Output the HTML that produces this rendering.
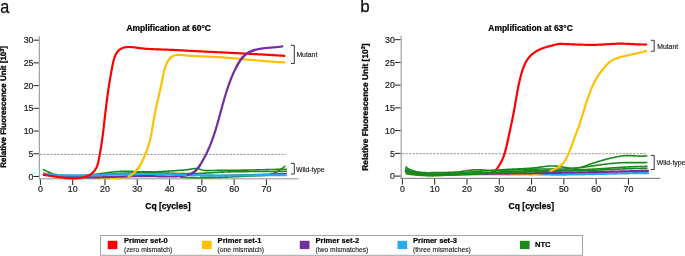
<!DOCTYPE html>
<html><head><meta charset="utf-8"><style>
html,body{margin:0;padding:0;background:#fff;}
svg{display:block;will-change:transform;}
text{font-family:"Liberation Sans",sans-serif;fill:#1a1a1a;}
.pl{font-size:18px;fill:#111;stroke:#111;stroke-width:0.3px;}
.ti{font-size:8.45px;font-weight:bold;fill:#000;stroke:#000;stroke-width:0.22px;}
.tk{font-size:8.8px;fill:#1a1a1a;stroke:#1a1a1a;stroke-width:0.2px;}
.yl{text-rendering:geometricPrecision;font-size:8px;font-weight:bold;fill:#000;stroke:#000;stroke-width:0.3px;}
.xl{font-size:8.5px;font-weight:bold;fill:#000;stroke:#000;stroke-width:0.25px;}
.ann{font-size:6.85px;fill:#111;stroke:#111;stroke-width:0.12px;}
.lg1{font-size:7.6px;font-weight:bold;fill:#000;stroke:#000;stroke-width:0.2px;}
.lg2{font-size:6.75px;fill:#222;stroke:#222;stroke-width:0.12px;}
</style></head><body>
<svg width="685" height="256" viewBox="0 0 685 256">
<text transform="translate(0.15,12.6) scale(0.9,1)" class="pl">a</text>
<text x="360.2" y="11.95" class="pl" style="font-size:17px">b</text>
<text x="126.4" y="31" class="ti">Amplification at 60°C</text>
<text x="488.3" y="30.6" class="ti">Amplification at 63°C</text>
<text transform="translate(6.4,106.85) rotate(-90)" text-anchor="middle" class="yl">Relative Fluorescence Unit [10<tspan dy="-2.5" font-size="5.5">3</tspan><tspan dy="2.5">]</tspan></text>
<text transform="translate(367.6,107.1) rotate(-90)" text-anchor="middle" class="yl" style="font-size:8.4px">Relative Fluorescence Unit [10<tspan dy="-2.5" font-size="5.5">3</tspan><tspan dy="2.5">]</tspan></text>
<text x="168" y="209" text-anchor="middle" class="xl">Cq [cycles]</text>
<text x="531.3" y="208.7" text-anchor="middle" class="xl">Cq [cycles]</text>
<line x1="40" y1="154.4" x2="286" y2="154.4" stroke="#959595" stroke-width="1" stroke-dasharray="2.3,1.15"/>
<line x1="402" y1="153.7" x2="647" y2="153.7" stroke="#959595" stroke-width="1" stroke-dasharray="2.3,1.15"/>
<line x1="39.35" y1="36.2" x2="39.35" y2="179.4" stroke="#a0a0a0" stroke-width="1.2"/>
<line x1="38.75" y1="178.8" x2="298.4" y2="178.8" stroke="#b4b4b4" stroke-width="1.5"/>
<line x1="33.5" y1="176.50" x2="38.75" y2="176.50" stroke="#222" stroke-width="1"/>
<text x="33.5" y="179.65" text-anchor="end" class="tk">0</text>
<line x1="33.5" y1="153.78" x2="38.75" y2="153.78" stroke="#222" stroke-width="1"/>
<text x="33.5" y="156.93" text-anchor="end" class="tk">5</text>
<line x1="33.5" y1="131.06" x2="38.75" y2="131.06" stroke="#222" stroke-width="1"/>
<text x="33.5" y="134.21" text-anchor="end" class="tk">10</text>
<line x1="33.5" y1="108.34" x2="38.75" y2="108.34" stroke="#222" stroke-width="1"/>
<text x="33.5" y="111.49" text-anchor="end" class="tk">15</text>
<line x1="33.5" y1="85.62" x2="38.75" y2="85.62" stroke="#222" stroke-width="1"/>
<text x="33.5" y="88.77" text-anchor="end" class="tk">20</text>
<line x1="33.5" y1="62.90" x2="38.75" y2="62.90" stroke="#222" stroke-width="1"/>
<text x="33.5" y="66.05" text-anchor="end" class="tk">25</text>
<line x1="33.5" y1="40.18" x2="38.75" y2="40.18" stroke="#222" stroke-width="1"/>
<text x="33.5" y="43.33" text-anchor="end" class="tk">30</text>
<line x1="40.40" y1="179.4" x2="40.40" y2="185.0" stroke="#222" stroke-width="1"/>
<text x="40.40" y="191.8" text-anchor="middle" class="tk">0</text>
<line x1="72.69" y1="179.4" x2="72.69" y2="185.0" stroke="#222" stroke-width="1"/>
<text x="72.69" y="191.8" text-anchor="middle" class="tk">10</text>
<line x1="104.98" y1="179.4" x2="104.98" y2="185.0" stroke="#222" stroke-width="1"/>
<text x="104.98" y="191.8" text-anchor="middle" class="tk">20</text>
<line x1="137.27" y1="179.4" x2="137.27" y2="185.0" stroke="#222" stroke-width="1"/>
<text x="137.27" y="191.8" text-anchor="middle" class="tk">30</text>
<line x1="169.56" y1="179.4" x2="169.56" y2="185.0" stroke="#222" stroke-width="1"/>
<text x="169.56" y="191.8" text-anchor="middle" class="tk">40</text>
<line x1="201.85" y1="179.4" x2="201.85" y2="185.0" stroke="#222" stroke-width="1"/>
<text x="201.85" y="191.8" text-anchor="middle" class="tk">50</text>
<line x1="234.14" y1="179.4" x2="234.14" y2="185.0" stroke="#222" stroke-width="1"/>
<text x="234.14" y="191.8" text-anchor="middle" class="tk">60</text>
<line x1="266.43" y1="179.4" x2="266.43" y2="185.0" stroke="#222" stroke-width="1"/>
<text x="266.43" y="191.8" text-anchor="middle" class="tk">70</text>
<line x1="401.2" y1="35.8" x2="401.2" y2="178.95" stroke="#a0a0a0" stroke-width="1.2"/>
<line x1="400.59999999999997" y1="178.35" x2="660.4" y2="178.35" stroke="#767676" stroke-width="1.0"/>
<line x1="394.90000000000003" y1="176.10" x2="400.59999999999997" y2="176.10" stroke="#222" stroke-width="1"/>
<text x="394.90000000000003" y="179.25" text-anchor="end" class="tk">0</text>
<line x1="394.90000000000003" y1="153.36" x2="400.59999999999997" y2="153.36" stroke="#222" stroke-width="1"/>
<text x="394.90000000000003" y="156.51" text-anchor="end" class="tk">5</text>
<line x1="394.90000000000003" y1="130.62" x2="400.59999999999997" y2="130.62" stroke="#222" stroke-width="1"/>
<text x="394.90000000000003" y="133.77" text-anchor="end" class="tk">10</text>
<line x1="394.90000000000003" y1="107.88" x2="400.59999999999997" y2="107.88" stroke="#222" stroke-width="1"/>
<text x="394.90000000000003" y="111.03" text-anchor="end" class="tk">15</text>
<line x1="394.90000000000003" y1="85.14" x2="400.59999999999997" y2="85.14" stroke="#222" stroke-width="1"/>
<text x="394.90000000000003" y="88.29" text-anchor="end" class="tk">20</text>
<line x1="394.90000000000003" y1="62.40" x2="400.59999999999997" y2="62.40" stroke="#222" stroke-width="1"/>
<text x="394.90000000000003" y="65.55" text-anchor="end" class="tk">25</text>
<line x1="394.90000000000003" y1="39.66" x2="400.59999999999997" y2="39.66" stroke="#222" stroke-width="1"/>
<text x="394.90000000000003" y="42.81" text-anchor="end" class="tk">30</text>
<line x1="402.40" y1="178.95" x2="402.40" y2="184.54999999999998" stroke="#222" stroke-width="1"/>
<text x="402.40" y="191.8" text-anchor="middle" class="tk">0</text>
<line x1="434.69" y1="178.95" x2="434.69" y2="184.54999999999998" stroke="#222" stroke-width="1"/>
<text x="434.69" y="191.8" text-anchor="middle" class="tk">10</text>
<line x1="466.98" y1="178.95" x2="466.98" y2="184.54999999999998" stroke="#222" stroke-width="1"/>
<text x="466.98" y="191.8" text-anchor="middle" class="tk">20</text>
<line x1="499.27" y1="178.95" x2="499.27" y2="184.54999999999998" stroke="#222" stroke-width="1"/>
<text x="499.27" y="191.8" text-anchor="middle" class="tk">30</text>
<line x1="531.56" y1="178.95" x2="531.56" y2="184.54999999999998" stroke="#222" stroke-width="1"/>
<text x="531.56" y="191.8" text-anchor="middle" class="tk">40</text>
<line x1="563.85" y1="178.95" x2="563.85" y2="184.54999999999998" stroke="#222" stroke-width="1"/>
<text x="563.85" y="191.8" text-anchor="middle" class="tk">50</text>
<line x1="596.14" y1="178.95" x2="596.14" y2="184.54999999999998" stroke="#222" stroke-width="1"/>
<text x="596.14" y="191.8" text-anchor="middle" class="tk">60</text>
<line x1="628.43" y1="178.95" x2="628.43" y2="184.54999999999998" stroke="#222" stroke-width="1"/>
<text x="628.43" y="191.8" text-anchor="middle" class="tk">70</text>
<path d="M42.95,172.79 L43.73,173.02 L44.51,173.24 L45.29,173.46 L46.07,173.66 L46.85,173.86 L47.64,174.05 L48.42,174.24 L49.21,174.42 L49.99,174.58 L50.78,174.75 L51.57,174.90 L52.35,175.05 L53.14,175.19 L53.93,175.32 L54.72,175.45 L55.51,175.57 L56.30,175.69 L57.10,175.80 L57.89,175.91 L58.68,176.00 L59.47,176.10 L60.27,176.19 L61.06,176.27 L61.86,176.35 L62.66,176.42 L63.45,176.49 L64.25,176.56 L65.05,176.62 L65.84,176.67 L66.64,176.72 L67.44,176.77 L68.24,176.82 L69.04,176.86 L69.84,176.90 L70.64,176.93 L71.44,176.97 L72.24,177.00 L73.05,177.02 L73.85,177.05 L74.65,177.07 L75.45,177.09 L76.26,177.11 L77.06,177.12 L77.86,177.14 L78.67,177.15 L79.47,177.17 L80.28,177.18 L81.08,177.19 L81.88,177.20 L82.69,177.20 L83.49,177.21 L84.30,177.22 L85.10,177.23 L85.91,177.24 L86.72,177.24 L87.52,177.25 L88.33,177.26 L89.13,177.27 L89.94,177.28 L90.74,177.29 L91.55,177.30 L92.36,177.32 L93.16,177.33 L93.97,177.35 L94.77,177.37 L95.58,177.39 L96.38,177.41 L97.19,177.43 L98.00,177.46 L98.80,177.49 L99.61,177.51 L100.41,177.54 L101.22,177.57 L102.02,177.60 L102.83,177.63 L103.63,177.65 L104.44,177.68 L105.24,177.71 L106.04,177.73 L106.85,177.75 L107.65,177.78 L108.46,177.80 L109.26,177.81 L110.06,177.83 L110.87,177.84 L111.67,177.85 L112.47,177.85 L113.27,177.86 L114.08,177.85 L114.88,177.85 L115.68,177.84 L116.48,177.82 L117.28,177.80 L118.08,177.78 L118.88,177.75 L119.68,177.71 L120.48,177.67 L121.28,177.63 L122.08,177.57 L122.88,177.51 L123.68,177.44 L124.47,177.35 L125.26,177.23 L126.03,177.09 L126.81,176.91 L127.57,176.69 L128.31,176.43 L129.05,176.13 L129.77,175.81 L130.47,175.44 L131.15,175.05 L131.82,174.63 L132.46,174.18 L133.09,173.71 L133.70,173.21 L134.30,172.69 L134.87,172.15 L135.43,171.58 L135.98,171.00 L136.51,170.39 L137.02,169.77 L137.52,169.13 L138.00,168.48 L138.47,167.82 L138.93,167.14 L139.38,166.45 L139.81,165.75 L140.23,165.04 L140.64,164.32 L141.04,163.60 L141.43,162.87 L141.80,162.14 L142.17,161.40 L142.53,160.67 L142.88,159.93 L143.22,159.19 L143.55,158.45 L143.88,157.71 L144.19,156.97 L144.51,156.23 L144.81,155.48 L145.11,154.74 L145.40,154.00 L145.69,153.25 L145.97,152.50 L146.25,151.75 L146.53,151.00 L146.80,150.25 L147.07,149.50 L147.34,148.74 L147.61,147.99 L147.87,147.23 L148.13,146.47 L148.39,145.71 L148.65,144.95 L148.91,144.19 L149.16,143.43 L149.41,142.66 L149.64,141.90 L149.87,141.13 L150.08,140.36 L150.28,139.59 L150.47,138.82 L150.64,138.05 L150.80,137.27 L150.96,136.50 L151.10,135.72 L151.23,134.95 L151.36,134.17 L151.48,133.39 L151.60,132.61 L151.72,131.83 L151.84,131.05 L151.96,130.27 L152.08,129.48 L152.20,128.70 L152.32,127.92 L152.45,127.13 L152.58,126.35 L152.71,125.56 L152.84,124.77 L152.98,123.98 L153.11,123.19 L153.25,122.41 L153.39,121.62 L153.53,120.83 L153.67,120.04 L153.82,119.24 L153.96,118.45 L154.11,117.66 L154.26,116.87 L154.41,116.08 L154.57,115.28 L154.72,114.49 L154.88,113.70 L155.03,112.90 L155.19,112.11 L155.35,111.32 L155.51,110.52 L155.68,109.73 L155.84,108.94 L156.01,108.14 L156.18,107.35 L156.35,106.55 L156.52,105.76 L156.69,104.97 L156.87,104.17 L157.05,103.38 L157.22,102.59 L157.40,101.79 L157.58,101.00 L157.76,100.21 L157.95,99.41 L158.13,98.62 L158.31,97.83 L158.49,97.04 L158.68,96.25 L158.86,95.46 L159.04,94.67 L159.22,93.88 L159.41,93.09 L159.59,92.30 L159.77,91.51 L159.95,90.73 L160.13,89.94 L160.30,89.15 L160.48,88.37 L160.66,87.58 L160.83,86.80 L161.00,86.01 L161.17,85.23 L161.33,84.45 L161.50,83.67 L161.66,82.89 L161.82,82.11 L161.98,81.33 L162.13,80.55 L162.28,79.78 L162.43,79.00 L162.58,78.23 L162.72,77.45 L162.87,76.68 L163.01,75.91 L163.17,75.14 L163.32,74.37 L163.48,73.60 L163.64,72.84 L163.82,72.07 L164.00,71.31 L164.19,70.54 L164.39,69.78 L164.61,69.02 L164.83,68.26 L165.08,67.50 L165.33,66.75 L165.61,65.99 L165.90,65.24 L166.21,64.49 L166.54,63.74 L166.90,62.99 L167.27,62.25 L167.67,61.52 L168.10,60.81 L168.56,60.12 L169.05,59.45 L169.57,58.82 L170.13,58.21 L170.72,57.64 L171.35,57.12 L172.01,56.64 L172.70,56.21 L173.42,55.83 L174.15,55.51 L174.89,55.26 L175.64,55.07 L176.39,54.94 L177.15,54.86 L177.91,54.83 L178.67,54.83 L179.44,54.86 L180.21,54.91 L180.98,54.96 L181.76,55.02 L182.54,55.09 L183.32,55.17 L184.11,55.24 L184.90,55.32 L185.69,55.40 L186.48,55.48 L187.28,55.55 L188.07,55.62 L188.87,55.68 L189.68,55.75 L190.48,55.80 L191.29,55.86 L192.09,55.91 L192.90,55.96 L193.71,56.01 L194.52,56.05 L195.34,56.09 L196.15,56.14 L196.97,56.17 L197.78,56.21 L198.60,56.25 L199.42,56.28 L200.23,56.31 L201.05,56.35 L201.87,56.38 L202.69,56.41 L203.51,56.44 L204.33,56.47 L205.14,56.50 L205.96,56.54 L206.78,56.57 L207.60,56.60 L208.41,56.63 L209.23,56.67 L210.04,56.71 L210.86,56.74 L211.67,56.78 L212.48,56.82 L213.29,56.87 L214.10,56.91 L214.91,56.95 L215.72,57.00 L216.53,57.05 L217.33,57.10 L218.14,57.15 L218.95,57.20 L219.75,57.25 L220.55,57.30 L221.36,57.36 L222.16,57.41 L222.96,57.47 L223.76,57.53 L224.56,57.59 L225.36,57.65 L226.16,57.71 L226.96,57.77 L227.76,57.83 L228.55,57.89 L229.35,57.96 L230.15,58.02 L230.94,58.09 L231.74,58.15 L232.53,58.22 L233.33,58.29 L234.12,58.35 L234.92,58.42 L235.71,58.49 L236.50,58.56 L237.30,58.63 L238.09,58.70 L238.88,58.77 L239.68,58.84 L240.47,58.91 L241.26,58.99 L242.05,59.06 L242.85,59.13 L243.64,59.20 L244.43,59.27 L245.22,59.35 L246.01,59.42 L246.81,59.49 L247.60,59.56 L248.39,59.64 L249.18,59.71 L249.97,59.78 L250.77,59.85 L251.56,59.93 L252.35,60.00 L253.14,60.07 L253.94,60.14 L254.73,60.21 L255.52,60.29 L256.32,60.36 L257.11,60.43 L257.90,60.50 L258.70,60.57 L259.49,60.64 L260.29,60.71 L261.09,60.77 L261.88,60.84 L262.68,60.91 L263.48,60.98 L264.27,61.04 L265.07,61.11 L265.87,61.17 L266.67,61.24 L267.47,61.30 L268.27,61.36 L269.07,61.42 L269.87,61.48 L270.67,61.54 L271.48,61.60 L272.28,61.66 L273.09,61.72 L273.89,61.77 L274.70,61.83 L275.50,61.88 L276.31,61.93 L277.12,61.98 L277.93,62.03 L278.74,62.08 L279.55,62.13 L280.36,62.18 L281.18,62.22 L281.99,62.27 L282.81,62.31 L283.62,62.35 L284.44,62.39 L285.26,62.43" stroke="#ffc000" stroke-width="2.2" fill="none" stroke-linejoin="round"/>
<path d="M42.79,169.50 L43.55,169.79 L44.32,170.11 L45.09,170.44 L45.86,170.79 L46.63,171.14 L47.40,171.49 L48.17,171.84 L48.94,172.19 L49.71,172.53 L50.49,172.86 L51.26,173.17 L52.04,173.46 L52.82,173.72 L53.59,173.96 L54.37,174.17 L55.15,174.35 L55.93,174.51 L56.71,174.65 L57.49,174.77 L58.27,174.87 L59.06,174.97 L59.84,175.05 L60.62,175.13 L61.41,175.21 L62.19,175.27 L62.98,175.34 L63.77,175.40 L64.55,175.45 L65.34,175.51 L66.13,175.55 L66.92,175.59 L67.71,175.63 L68.50,175.66 L69.29,175.69 L70.08,175.71 L70.87,175.73 L71.67,175.75 L72.46,175.76 L73.25,175.76 L74.05,175.77 L74.84,175.76 L75.63,175.76 L76.43,175.74 L77.23,175.73 L78.02,175.71 L78.82,175.68 L79.61,175.66 L80.41,175.62 L81.21,175.59 L82.01,175.55 L82.80,175.50 L83.60,175.45 L84.40,175.40 L85.20,175.34 L86.00,175.28 L86.80,175.22 L87.60,175.15 L88.40,175.07 L89.20,175.00 L90.00,174.92 L90.80,174.83 L91.60,174.74 L92.40,174.65 L93.20,174.56 L94.00,174.46 L94.80,174.36 L95.60,174.26 L96.40,174.16 L97.21,174.05 L98.01,173.94 L98.81,173.84 L99.61,173.73 L100.41,173.62 L101.22,173.51 L102.02,173.40 L102.82,173.29 L103.62,173.18 L104.43,173.07 L105.23,172.96 L106.03,172.85 L106.84,172.75 L107.64,172.64 L108.44,172.54 L109.25,172.44 L110.05,172.34 L110.85,172.25 L111.66,172.16 L112.46,172.07 L113.26,171.98 L114.07,171.90 L114.87,171.82 L115.68,171.75 L116.48,171.68 L117.28,171.62 L118.09,171.56 L118.89,171.51 L119.69,171.46 L120.50,171.42 L121.30,171.39 L122.11,171.36 L122.91,171.33 L123.71,171.32 L124.52,171.31 L125.32,171.30 L126.12,171.30 L126.93,171.31 L127.73,171.32 L128.54,171.33 L129.34,171.35 L130.14,171.37 L130.95,171.39 L131.75,171.42 L132.55,171.45 L133.36,171.48 L134.16,171.51 L134.96,171.54 L135.77,171.58 L136.57,171.61 L137.37,171.64 L138.17,171.68 L138.98,171.71 L139.78,171.74 L140.58,171.77 L141.38,171.80 L142.19,171.82 L142.99,171.84 L143.79,171.86 L144.59,171.88 L145.39,171.89 L146.20,171.90 L147.00,171.91 L147.80,171.91 L148.60,171.91 L149.40,171.91 L150.20,171.90 L151.00,171.89 L151.80,171.88 L152.60,171.86 L153.40,171.85 L154.20,171.83 L155.00,171.81 L155.80,171.78 L156.60,171.75 L157.40,171.72 L158.20,171.69 L159.00,171.66 L159.80,171.62 L160.60,171.59 L161.40,171.55 L162.20,171.51 L163.00,171.47 L163.80,171.42 L164.60,171.38 L165.39,171.33 L166.19,171.28 L166.99,171.23 L167.79,171.18 L168.59,171.13 L169.39,171.08 L170.18,171.03 L170.98,170.97 L171.78,170.92 L172.58,170.86 L173.38,170.81 L174.18,170.75 L174.97,170.70 L175.77,170.64 L176.57,170.58 L177.37,170.53 L178.16,170.47 L178.96,170.41 L179.76,170.36 L180.56,170.30 L181.35,170.24 L182.15,170.19 L182.95,170.12 L183.75,170.06 L184.54,169.99 L185.34,169.91 L186.14,169.83 L186.93,169.73 L187.73,169.63 L188.53,169.52 L189.33,169.39 L190.12,169.25 L190.92,169.11 L191.72,168.96 L192.51,168.81 L193.31,168.69 L194.11,168.59 L194.91,168.53 L195.70,168.52 L196.50,168.56 L197.30,168.67 L198.09,168.84 L198.89,169.06 L199.69,169.32 L200.48,169.58 L201.28,169.83 L202.08,170.06 L202.87,170.24 L203.67,170.39 L204.47,170.49 L205.27,170.56 L206.06,170.60 L206.86,170.62 L207.66,170.63 L208.45,170.61 L209.25,170.59 L210.05,170.57 L210.85,170.54 L211.64,170.52 L212.44,170.50 L213.24,170.48 L214.03,170.46 L214.83,170.44 L215.63,170.43 L216.43,170.41 L217.22,170.40 L218.02,170.38 L218.82,170.37 L219.62,170.36 L220.41,170.35 L221.21,170.34 L222.01,170.33 L222.81,170.32 L223.61,170.32 L224.40,170.31 L225.20,170.30 L226.00,170.30 L226.80,170.29 L227.60,170.29 L228.40,170.28 L229.19,170.28 L229.99,170.27 L230.79,170.27 L231.59,170.26 L232.39,170.26 L233.19,170.25 L233.99,170.25 L234.79,170.24 L235.58,170.24 L236.38,170.23 L237.18,170.22 L237.98,170.22 L238.78,170.21 L239.58,170.20 L240.38,170.19 L241.18,170.18 L241.98,170.17 L242.78,170.16 L243.58,170.15 L244.38,170.13 L245.18,170.12 L245.98,170.11 L246.78,170.09 L247.59,170.08 L248.39,170.06 L249.19,170.05 L249.99,170.03 L250.79,170.01 L251.59,170.00 L252.39,169.98 L253.20,169.96 L254.00,169.94 L254.80,169.93 L255.60,169.91 L256.40,169.89 L257.21,169.87 L258.01,169.85 L258.81,169.83 L259.62,169.81 L260.42,169.79 L261.22,169.77 L262.03,169.75 L262.83,169.73 L263.63,169.71 L264.44,169.69 L265.24,169.67 L266.05,169.65 L266.85,169.63 L267.65,169.61 L268.46,169.59 L269.26,169.57 L270.07,169.55 L270.88,169.53 L271.68,169.51 L272.49,169.49 L273.29,169.47 L274.10,169.45 L274.91,169.43 L275.71,169.41 L276.52,169.39 L277.33,169.38 L278.13,169.36 L278.94,169.34 L279.75,169.33 L280.56,169.31 L281.37,169.29 L282.17,169.28 L282.98,169.26 L283.79,169.25 L284.60,169.24 L285.41,169.22 L286.22,169.21 L287.03,169.20" stroke="#1a8a1a" stroke-width="1.6" fill="none" stroke-linejoin="round"/>
<path d="M99.99,174.80 L100.80,174.74 L101.60,174.67 L102.41,174.60 L103.21,174.54 L104.02,174.47 L104.83,174.41 L105.63,174.35 L106.44,174.29 L107.25,174.23 L108.05,174.17 L108.86,174.11 L109.66,174.05 L110.47,174.00 L111.28,173.94 L112.08,173.89 L112.89,173.84 L113.69,173.78 L114.50,173.73 L115.31,173.68 L116.11,173.63 L116.92,173.59 L117.72,173.54 L118.53,173.50 L119.34,173.45 L120.14,173.41 L120.95,173.37 L121.75,173.33 L122.56,173.29 L123.37,173.25 L124.17,173.21 L124.98,173.17 L125.78,173.14 L126.59,173.11 L127.40,173.07 L128.20,173.04 L129.01,173.01 L129.81,172.98 L130.62,172.95 L131.43,172.93 L132.23,172.90 L133.04,172.88 L133.84,172.86 L134.65,172.84 L135.46,172.81 L136.26,172.80 L137.07,172.78 L137.87,172.76 L138.68,172.75 L139.49,172.73 L140.29,172.72 L141.10,172.71 L141.90,172.70 L142.71,172.69 L143.52,172.68 L144.32,172.68 L145.13,172.67 L145.93,172.67 L146.74,172.67 L147.54,172.67 L148.35,172.67 L149.16,172.67 L149.96,172.68 L150.77,172.68 L151.57,172.69 L152.38,172.70 L153.19,172.71 L153.99,172.72 L154.80,172.73 L155.60,172.74 L156.41,172.76 L157.22,172.78 L158.02,172.79 L158.83,172.81 L159.63,172.83 L160.44,172.86 L161.24,172.88 L162.05,172.91 L162.86,172.93 L163.66,172.96 L164.47,172.99 L165.27,173.02 L166.08,173.05 L166.89,173.08 L167.69,173.11 L168.50,173.14 L169.30,173.17 L170.11,173.20 L170.92,173.23 L171.72,173.27 L172.53,173.30 L173.33,173.33 L174.14,173.35 L174.94,173.38 L175.75,173.41 L176.56,173.44 L177.36,173.46 L178.17,173.49 L178.97,173.51 L179.78,173.53 L180.59,173.55 L181.39,173.57 L182.20,173.58 L183.00,173.59 L183.81,173.61 L184.62,173.62 L185.42,173.62 L186.23,173.63 L187.03,173.63 L187.84,173.64 L188.64,173.64 L189.45,173.63 L190.26,173.63 L191.06,173.62 L191.87,173.62 L192.67,173.61 L193.48,173.59 L194.29,173.58 L195.09,173.56 L195.90,173.54 L196.70,173.52 L197.51,173.49 L198.32,173.47 L199.12,173.44 L199.93,173.41 L200.73,173.37 L201.54,173.34 L202.34,173.30 L203.15,173.26 L203.96,173.21 L204.76,173.17 L205.57,173.12 L206.37,173.08 L207.18,173.03 L207.99,172.98 L208.79,172.93 L209.60,172.88 L210.40,172.83 L211.21,172.78 L212.02,172.73 L212.82,172.68 L213.63,172.62 L214.43,172.57 L215.24,172.52 L216.05,172.48 L216.85,172.43 L217.66,172.38 L218.46,172.33 L219.27,172.29 L220.08,172.25 L220.88,172.21 L221.69,172.17 L222.49,172.13 L223.30,172.09 L224.11,172.06 L224.91,172.02 L225.72,171.99 L226.52,171.96 L227.33,171.93 L228.14,171.91 L228.94,171.88 L229.75,171.86 L230.55,171.83 L231.36,171.81 L232.17,171.79 L232.97,171.77 L233.78,171.75 L234.58,171.74 L235.39,171.72 L236.20,171.71 L237.00,171.69 L237.81,171.68 L238.62,171.67 L239.42,171.65 L240.23,171.64 L241.03,171.63 L241.84,171.63 L242.65,171.62 L243.45,171.61 L244.26,171.60 L245.06,171.60 L245.87,171.59 L246.68,171.59 L247.48,171.58 L248.29,171.58 L249.10,171.57 L249.90,171.57 L250.71,171.57 L251.51,171.56 L252.32,171.56 L253.13,171.56 L253.93,171.56 L254.74,171.55 L255.55,171.55 L256.35,171.55 L257.16,171.55 L257.96,171.55 L258.77,171.55 L259.58,171.54 L260.38,171.54 L261.19,171.54 L262.00,171.54 L262.80,171.54 L263.61,171.53 L264.41,171.53 L265.22,171.53 L266.03,171.53 L266.83,171.52 L267.64,171.52 L268.45,171.51 L269.25,171.51 L270.06,171.50 L270.87,171.50 L271.67,171.49 L272.48,171.48 L273.29,171.47 L274.09,171.46 L274.90,171.46 L275.70,171.44 L276.51,171.43 L277.32,171.42 L278.12,171.41 L278.93,171.39 L279.74,171.38 L280.54,171.36 L281.35,171.35 L282.16,171.33 L282.96,171.31 L283.77,171.29 L284.58,171.27 L285.38,171.25 L286.19,171.22 L287.00,171.20" stroke="#1a8a1a" stroke-width="1.6" fill="none" stroke-linejoin="round"/>
<path d="M180.06,177.03 L180.85,177.08 L181.64,177.13 L182.44,177.18 L183.23,177.23 L184.03,177.27 L184.82,177.32 L185.62,177.36 L186.42,177.40 L187.22,177.43 L188.02,177.46 L188.82,177.50 L189.63,177.52 L190.43,177.55 L191.23,177.58 L192.04,177.60 L192.84,177.62 L193.65,177.64 L194.46,177.65 L195.26,177.67 L196.07,177.68 L196.88,177.69 L197.69,177.70 L198.50,177.71 L199.31,177.71 L200.13,177.72 L200.94,177.72 L201.75,177.72 L202.56,177.72 L203.38,177.72 L204.19,177.71 L205.01,177.71 L205.82,177.70 L206.64,177.69 L207.46,177.68 L208.27,177.67 L209.09,177.66 L209.91,177.64 L210.72,177.63 L211.54,177.61 L212.36,177.59 L213.18,177.57 L214.00,177.55 L214.81,177.53 L215.63,177.51 L216.45,177.48 L217.27,177.46 L218.09,177.43 L218.91,177.41 L219.73,177.38 L220.55,177.35 L221.37,177.32 L222.19,177.29 L223.01,177.26 L223.83,177.23 L224.65,177.20 L225.47,177.17 L226.29,177.14 L227.11,177.10 L227.93,177.07 L228.74,177.03 L229.56,177.00 L230.38,176.96 L231.20,176.93 L232.02,176.89 L232.84,176.85 L233.65,176.82 L234.47,176.78 L235.29,176.74 L236.10,176.70 L236.92,176.67 L237.73,176.63 L238.55,176.59 L239.36,176.55 L240.18,176.51 L240.99,176.47 L241.81,176.44 L242.62,176.40 L243.43,176.36 L244.24,176.32 L245.05,176.28 L245.86,176.25 L246.67,176.21 L247.48,176.17 L248.29,176.14 L249.10,176.10 L249.91,176.06 L250.71,176.03 L251.52,175.99 L252.32,175.96 L253.13,175.92 L253.93,175.89 L254.73,175.86 L255.53,175.83 L256.33,175.79 L257.13,175.76 L257.93,175.73 L258.73,175.70 L259.52,175.67 L260.32,175.65 L261.11,175.62 L261.91,175.59 L262.70,175.55 L263.49,175.51 L264.28,175.46 L265.06,175.40 L265.84,175.32 L266.63,175.23 L267.40,175.12 L268.18,174.98 L268.95,174.83 L269.72,174.64 L270.49,174.43 L271.25,174.20 L272.01,173.94 L272.77,173.66 L273.52,173.35 L274.27,173.02 L275.01,172.66 L275.75,172.29 L276.48,171.90 L277.21,171.49 L277.93,171.06 L278.64,170.62 L279.36,170.17 L280.06,169.71 L280.76,169.24 L281.45,168.77 L282.14,168.29 L282.82,167.82 L283.50,167.34 L284.16,166.87 L284.82,166.41 L285.47,165.96" stroke="#1a8a1a" stroke-width="1.6" fill="none" stroke-linejoin="round"/>
<path d="M200.00,175.80 L200.81,175.79 L201.63,175.78 L202.44,175.77 L203.25,175.76 L204.07,175.75 L204.88,175.74 L205.69,175.73 L206.51,175.72 L207.32,175.70 L208.13,175.69 L208.95,175.68 L209.76,175.67 L210.57,175.66 L211.39,175.64 L212.20,175.63 L213.01,175.62 L213.83,175.61 L214.64,175.59 L215.45,175.58 L216.27,175.56 L217.08,175.55 L217.89,175.54 L218.71,175.52 L219.52,175.51 L220.33,175.49 L221.15,175.48 L221.96,175.46 L222.77,175.45 L223.59,175.43 L224.40,175.42 L225.21,175.40 L226.03,175.38 L226.84,175.37 L227.65,175.35 L228.47,175.33 L229.28,175.32 L230.09,175.30 L230.90,175.28 L231.72,175.26 L232.53,175.24 L233.34,175.23 L234.16,175.21 L234.97,175.19 L235.78,175.17 L236.60,175.15 L237.41,175.13 L238.22,175.11 L239.04,175.09 L239.85,175.07 L240.66,175.05 L241.48,175.03 L242.29,175.01 L243.10,174.99 L243.92,174.97 L244.73,174.95 L245.54,174.92 L246.35,174.90 L247.17,174.88 L247.98,174.86 L248.79,174.84 L249.61,174.81 L250.42,174.79 L251.23,174.77 L252.05,174.74 L252.86,174.72 L253.67,174.70 L254.49,174.67 L255.30,174.65 L256.11,174.62 L256.92,174.60 L257.74,174.57 L258.55,174.55 L259.36,174.52 L260.18,174.49 L260.99,174.47 L261.80,174.44 L262.62,174.42 L263.43,174.39 L264.24,174.36 L265.05,174.33 L265.87,174.31 L266.68,174.28 L267.49,174.25 L268.31,174.22 L269.12,174.19 L269.93,174.16 L270.74,174.14 L271.56,174.11 L272.37,174.08 L273.18,174.05 L274.00,174.02 L274.81,173.99 L275.62,173.96 L276.43,173.92 L277.25,173.89 L278.06,173.86 L278.87,173.83 L279.69,173.80 L280.50,173.77 L281.31,173.73 L282.12,173.70 L282.94,173.67 L283.75,173.64 L284.56,173.60 L285.37,173.57 L286.19,173.53 L287.00,173.50" stroke="#1a8a1a" stroke-width="1.6" fill="none" stroke-linejoin="round"/>
<path d="M42.96,173.91 L43.76,174.02 L44.56,174.12 L45.36,174.22 L46.16,174.33 L46.96,174.43 L47.76,174.52 L48.56,174.62 L49.36,174.72 L50.16,174.81 L50.97,174.90 L51.77,174.99 L52.57,175.08 L53.37,175.17 L54.17,175.26 L54.97,175.34 L55.77,175.42 L56.57,175.50 L57.37,175.58 L58.18,175.66 L58.98,175.74 L59.78,175.81 L60.58,175.89 L61.38,175.96 L62.18,176.03 L62.98,176.10 L63.79,176.16 L64.59,176.23 L65.39,176.29 L66.19,176.35 L66.99,176.41 L67.79,176.47 L68.59,176.53 L69.40,176.58 L70.20,176.64 L71.00,176.69 L71.80,176.74 L72.60,176.79 L73.40,176.83 L74.21,176.88 L75.01,176.92 L75.81,176.96 L76.61,177.00 L77.41,177.03 L78.22,177.07 L79.02,177.10 L79.82,177.13 L80.62,177.16 L81.42,177.19 L82.23,177.21 L83.03,177.24 L83.83,177.26 L84.63,177.28 L85.44,177.30 L86.24,177.31 L87.04,177.33 L87.84,177.34 L88.65,177.35 L89.45,177.36 L90.25,177.36 L91.05,177.37 L91.86,177.37 L92.66,177.37 L93.46,177.36 L94.26,177.36 L95.07,177.36 L95.87,177.35 L96.67,177.34 L97.47,177.33 L98.28,177.32 L99.08,177.30 L99.88,177.29 L100.69,177.27 L101.49,177.26 L102.29,177.24 L103.10,177.22 L103.90,177.20 L104.70,177.18 L105.51,177.15 L106.31,177.13 L107.11,177.11 L107.92,177.08 L108.72,177.05 L109.52,177.03 L110.33,177.00 L111.13,176.97 L111.93,176.94 L112.74,176.92 L113.54,176.89 L114.34,176.86 L115.15,176.83 L115.95,176.80 L116.76,176.77 L117.56,176.74 L118.36,176.71 L119.17,176.68 L119.97,176.64 L120.77,176.61 L121.58,176.58 L122.38,176.55 L123.19,176.53 L123.99,176.50 L124.80,176.47 L125.60,176.44 L126.40,176.41 L127.21,176.38 L128.01,176.36 L128.82,176.33 L129.62,176.31 L130.43,176.28 L131.23,176.26 L132.04,176.23 L132.84,176.21 L133.64,176.19 L134.45,176.17 L135.25,176.15 L136.06,176.14 L136.86,176.12 L137.67,176.11 L138.47,176.09 L139.28,176.08 L140.08,176.07 L140.89,176.06 L141.69,176.06 L142.50,176.05 L143.30,176.05 L144.11,176.04 L144.92,176.04 L145.72,176.05 L146.53,176.05 L147.33,176.05 L148.14,176.06 L148.94,176.07 L149.75,176.08 L150.55,176.10 L151.36,176.12 L152.17,176.13 L152.97,176.15 L153.78,176.17 L154.58,176.20 L155.39,176.22 L156.20,176.24 L157.00,176.27 L157.81,176.29 L158.61,176.32 L159.42,176.34 L160.23,176.36 L161.03,176.39 L161.84,176.41 L162.64,176.43 L163.45,176.45 L164.26,176.46 L165.06,176.48 L165.87,176.49 L166.68,176.50 L167.48,176.51 L168.29,176.51 L169.09,176.52 L169.90,176.51 L170.71,176.51 L171.51,176.50 L172.32,176.48 L173.12,176.47 L173.93,176.44 L174.74,176.42 L175.54,176.38 L176.35,176.34 L177.16,176.30 L177.96,176.25 L178.77,176.19 L179.57,176.13 L180.38,176.06 L181.18,175.99 L181.99,175.90 L182.79,175.81 L183.59,175.70 L184.38,175.58 L185.17,175.44 L185.95,175.29 L186.72,175.12 L187.49,174.93 L188.24,174.72 L188.98,174.49 L189.71,174.24 L190.43,173.96 L191.13,173.65 L191.82,173.32 L192.49,172.95 L193.15,172.56 L193.79,172.13 L194.40,171.67 L195.00,171.17 L195.58,170.65 L196.14,170.09 L196.69,169.52 L197.22,168.91 L197.74,168.29 L198.24,167.65 L198.73,166.99 L199.21,166.31 L199.67,165.62 L200.13,164.92 L200.57,164.22 L201.01,163.50 L201.44,162.78 L201.87,162.06 L202.28,161.34 L202.69,160.62 L203.10,159.90 L203.50,159.18 L203.89,158.46 L204.28,157.74 L204.66,157.02 L205.04,156.30 L205.41,155.57 L205.78,154.85 L206.14,154.13 L206.49,153.41 L206.84,152.68 L207.19,151.96 L207.53,151.23 L207.87,150.50 L208.20,149.77 L208.53,149.04 L208.85,148.31 L209.17,147.58 L209.48,146.85 L209.79,146.11 L210.09,145.37 L210.39,144.64 L210.69,143.90 L210.98,143.15 L211.27,142.41 L211.56,141.66 L211.84,140.92 L212.11,140.17 L212.39,139.42 L212.66,138.67 L212.93,137.92 L213.19,137.16 L213.45,136.41 L213.71,135.65 L213.96,134.89 L214.21,134.13 L214.46,133.38 L214.71,132.61 L214.95,131.85 L215.20,131.09 L215.44,130.33 L215.67,129.56 L215.91,128.80 L216.14,128.03 L216.37,127.26 L216.60,126.49 L216.83,125.72 L217.05,124.95 L217.27,124.18 L217.50,123.41 L217.72,122.64 L217.94,121.87 L218.16,121.09 L218.37,120.32 L218.59,119.55 L218.80,118.77 L219.02,118.00 L219.23,117.22 L219.44,116.45 L219.66,115.67 L219.87,114.89 L220.08,114.12 L220.29,113.34 L220.50,112.56 L220.71,111.79 L220.92,111.01 L221.13,110.23 L221.34,109.46 L221.55,108.68 L221.77,107.90 L221.98,107.13 L222.19,106.35 L222.40,105.57 L222.62,104.80 L222.83,104.02 L223.05,103.24 L223.26,102.47 L223.48,101.69 L223.70,100.92 L223.92,100.14 L224.14,99.37 L224.37,98.59 L224.59,97.82 L224.82,97.05 L225.05,96.28 L225.28,95.50 L225.51,94.73 L225.75,93.96 L225.98,93.19 L226.22,92.43 L226.46,91.66 L226.71,90.89 L226.95,90.12 L227.20,89.36 L227.45,88.59 L227.71,87.83 L227.96,87.07 L228.23,86.31 L228.49,85.55 L228.76,84.79 L229.03,84.03 L229.30,83.27 L229.58,82.52 L229.86,81.76 L230.14,81.01 L230.43,80.26 L230.72,79.51 L231.02,78.76 L231.32,78.01 L231.62,77.27 L231.93,76.52 L232.24,75.78 L232.56,75.04 L232.88,74.30 L233.21,73.56 L233.54,72.82 L233.87,72.09 L234.22,71.36 L234.56,70.63 L234.91,69.90 L235.27,69.17 L235.63,68.44 L236.00,67.72 L236.37,67.00 L236.75,66.28 L237.13,65.56 L237.52,64.85 L237.92,64.15 L238.33,63.45 L238.75,62.76 L239.17,62.07 L239.61,61.40 L240.05,60.73 L240.51,60.08 L240.98,59.44 L241.46,58.81 L241.95,58.19 L242.46,57.59 L242.98,57.01 L243.52,56.44 L244.07,55.89 L244.64,55.36 L245.22,54.85 L245.82,54.36 L246.44,53.89 L247.07,53.44 L247.73,53.01 L248.40,52.61 L249.09,52.23 L249.80,51.87 L250.51,51.54 L251.25,51.22 L251.99,50.92 L252.75,50.64 L253.52,50.38 L254.30,50.13 L255.09,49.90 L255.88,49.69 L256.68,49.49 L257.49,49.30 L258.30,49.13 L259.11,48.97 L259.93,48.82 L260.75,48.68 L261.57,48.55 L262.39,48.44 L263.20,48.33 L264.02,48.23 L264.84,48.13 L265.66,48.04 L266.47,47.96 L267.28,47.89 L268.10,47.81 L268.91,47.74 L269.72,47.68 L270.53,47.61 L271.34,47.55 L272.14,47.49 L272.95,47.43 L273.75,47.36 L274.55,47.30 L275.34,47.23 L276.14,47.16 L276.93,47.09 L277.72,47.01 L278.51,46.93 L279.29,46.84 L280.07,46.74 L280.85,46.63 L281.63,46.52 L282.40,46.40 L283.17,46.27" stroke="#7030a0" stroke-width="2.2" fill="none" stroke-linejoin="round"/>
<path d="M42.96,173.67 L43.76,173.78 L44.56,173.88 L45.37,173.97 L46.17,174.07 L46.97,174.16 L47.78,174.24 L48.58,174.33 L49.38,174.41 L50.19,174.48 L50.99,174.56 L51.79,174.62 L52.60,174.69 L53.40,174.75 L54.20,174.81 L55.01,174.87 L55.81,174.92 L56.61,174.97 L57.42,175.02 L58.22,175.07 L59.02,175.11 L59.83,175.15 L60.63,175.19 L61.44,175.22 L62.24,175.25 L63.04,175.28 L63.85,175.31 L64.65,175.33 L65.45,175.36 L66.26,175.38 L67.06,175.40 L67.86,175.41 L68.67,175.43 L69.47,175.44 L70.28,175.45 L71.08,175.46 L71.88,175.46 L72.69,175.47 L73.49,175.47 L74.30,175.47 L75.10,175.47 L75.90,175.47 L76.71,175.47 L77.51,175.47 L78.31,175.46 L79.12,175.45 L79.92,175.45 L80.73,175.44 L81.53,175.43 L82.33,175.42 L83.14,175.40 L83.94,175.39 L84.75,175.38 L85.55,175.36 L86.35,175.35 L87.16,175.33 L87.96,175.32 L88.77,175.30 L89.57,175.28 L90.37,175.27 L91.18,175.25 L91.98,175.23 L92.79,175.21 L93.59,175.19 L94.39,175.17 L95.20,175.15 L96.00,175.13 L96.81,175.11 L97.61,175.08 L98.41,175.06 L99.22,175.04 L100.02,175.02 L100.83,174.99 L101.63,174.97 L102.44,174.95 L103.24,174.92 L104.04,174.90 L104.85,174.87 L105.65,174.85 L106.46,174.82 L107.26,174.80 L108.07,174.78 L108.87,174.75 L109.67,174.73 L110.48,174.70 L111.28,174.68 L112.09,174.65 L112.89,174.63 L113.70,174.60 L114.50,174.58 L115.30,174.55 L116.11,174.53 L116.91,174.51 L117.72,174.48 L118.52,174.46 L119.33,174.44 L120.13,174.41 L120.93,174.39 L121.74,174.37 L122.54,174.35 L123.35,174.33 L124.15,174.31 L124.96,174.29 L125.76,174.27 L126.57,174.25 L127.37,174.23 L128.17,174.21 L128.98,174.19 L129.78,174.17 L130.59,174.16 L131.39,174.14 L132.20,174.12 L133.00,174.11 L133.81,174.10 L134.61,174.08 L135.42,174.07 L136.22,174.06 L137.02,174.05 L137.83,174.04 L138.63,174.03 L139.44,174.02 L140.24,174.01 L141.05,174.00 L141.85,174.00 L142.66,173.99 L143.46,173.99 L144.27,173.98 L145.07,173.98 L145.87,173.98 L146.68,173.98 L147.48,173.98 L148.29,173.98 L149.09,173.99 L149.90,173.99 L150.70,174.00 L151.51,174.00 L152.31,174.01 L153.12,174.02 L153.92,174.03 L154.73,174.04 L155.53,174.05 L156.33,174.07 L157.14,174.08 L157.94,174.10 L158.75,174.11 L159.55,174.13 L160.36,174.15 L161.16,174.16 L161.97,174.18 L162.77,174.20 L163.58,174.22 L164.38,174.24 L165.19,174.26 L165.99,174.29 L166.80,174.31 L167.60,174.33 L168.41,174.35 L169.21,174.38 L170.01,174.40 L170.82,174.43 L171.62,174.45 L172.43,174.48 L173.23,174.50 L174.04,174.53 L174.84,174.55 L175.65,174.58 L176.45,174.60 L177.26,174.63 L178.06,174.66 L178.87,174.68 L179.67,174.71 L180.48,174.74 L181.28,174.76 L182.09,174.79 L182.89,174.81 L183.70,174.84 L184.50,174.86 L185.30,174.89 L186.11,174.91 L186.91,174.94 L187.72,174.96 L188.52,174.99 L189.33,175.01 L190.13,175.03 L190.94,175.05 L191.74,175.08 L192.55,175.10 L193.35,175.12 L194.16,175.14 L194.96,175.16 L195.77,175.18 L196.57,175.20 L197.38,175.22 L198.18,175.23 L198.99,175.25 L199.79,175.27 L200.60,175.29 L201.40,175.30 L202.21,175.32 L203.01,175.33 L203.81,175.35 L204.62,175.36 L205.42,175.37 L206.23,175.39 L207.03,175.40 L207.84,175.41 L208.64,175.42 L209.45,175.43 L210.25,175.44 L211.06,175.45 L211.86,175.46 L212.67,175.47 L213.47,175.48 L214.28,175.49 L215.08,175.49 L215.89,175.50 L216.69,175.51 L217.50,175.51 L218.30,175.52 L219.11,175.52 L219.91,175.52 L220.71,175.53 L221.52,175.53 L222.32,175.53 L223.13,175.53 L223.93,175.53 L224.74,175.53 L225.54,175.53 L226.35,175.53 L227.15,175.53 L227.96,175.53 L228.76,175.53 L229.57,175.53 L230.37,175.52 L231.18,175.52 L231.98,175.51 L232.79,175.51 L233.59,175.50 L234.40,175.50 L235.20,175.49 L236.00,175.48 L236.81,175.47 L237.61,175.47 L238.42,175.46 L239.22,175.45 L240.03,175.44 L240.83,175.43 L241.64,175.42 L242.44,175.41 L243.25,175.40 L244.05,175.39 L244.86,175.38 L245.66,175.37 L246.47,175.36 L247.27,175.35 L248.08,175.34 L248.88,175.32 L249.68,175.31 L250.49,175.30 L251.29,175.29 L252.10,175.28 L252.90,175.27 L253.71,175.26 L254.51,175.24 L255.32,175.23 L256.12,175.22 L256.93,175.21 L257.73,175.20 L258.54,175.19 L259.34,175.18 L260.14,175.17 L260.95,175.16 L261.75,175.15 L262.56,175.14 L263.36,175.13 L264.17,175.12 L264.97,175.11 L265.78,175.10 L266.58,175.09 L267.39,175.09 L268.19,175.08 L268.99,175.07 L269.80,175.07 L270.60,175.06 L271.41,175.06 L272.21,175.05 L273.02,175.05 L273.82,175.04 L274.63,175.04 L275.43,175.04 L276.24,175.04 L277.04,175.03 L277.84,175.03 L278.65,175.03 L279.45,175.03 L280.26,175.04 L281.06,175.04 L281.87,175.04 L282.67,175.05 L283.47,175.05 L284.28,175.06 L285.08,175.06 L285.89,175.07 L286.69,175.08" stroke="#2aa8ea" stroke-width="2.2" fill="none" stroke-linejoin="round"/>
<path d="M43.07,174.79 L43.83,174.90 L44.60,175.02 L45.37,175.13 L46.14,175.25 L46.92,175.37 L47.70,175.49 L48.48,175.61 L49.26,175.73 L50.05,175.85 L50.84,175.97 L51.63,176.09 L52.43,176.21 L53.23,176.34 L54.02,176.46 L54.83,176.58 L55.63,176.69 L56.43,176.81 L57.24,176.92 L58.04,177.04 L58.85,177.15 L59.66,177.26 L60.47,177.36 L61.28,177.47 L62.09,177.57 L62.90,177.66 L63.71,177.76 L64.52,177.84 L65.34,177.93 L66.15,178.01 L66.96,178.08 L67.77,178.15 L68.58,178.21 L69.38,178.26 L70.19,178.31 L71.00,178.34 L71.80,178.37 L72.61,178.39 L73.41,178.39 L74.21,178.39 L75.01,178.37 L75.81,178.34 L76.60,178.30 L77.39,178.25 L78.18,178.18 L78.97,178.10 L79.75,178.00 L80.54,177.89 L81.32,177.76 L82.09,177.62 L82.86,177.46 L83.63,177.28 L84.40,177.08 L85.16,176.86 L85.91,176.62 L86.66,176.36 L87.39,176.07 L88.12,175.76 L88.83,175.41 L89.53,175.04 L90.22,174.63 L90.88,174.19 L91.53,173.71 L92.15,173.20 L92.75,172.64 L93.33,172.05 L93.89,171.42 L94.41,170.76 L94.91,170.08 L95.38,169.38 L95.81,168.66 L96.21,167.93 L96.58,167.19 L96.90,166.45 L97.20,165.70 L97.46,164.95 L97.70,164.20 L97.91,163.45 L98.11,162.69 L98.28,161.94 L98.45,161.18 L98.60,160.42 L98.75,159.65 L98.90,158.89 L99.05,158.12 L99.20,157.35 L99.35,156.58 L99.50,155.80 L99.65,155.03 L99.79,154.25 L99.94,153.47 L100.08,152.69 L100.22,151.91 L100.36,151.12 L100.50,150.34 L100.64,149.55 L100.77,148.76 L100.90,147.97 L101.03,147.18 L101.16,146.39 L101.28,145.60 L101.41,144.80 L101.53,144.01 L101.65,143.21 L101.76,142.41 L101.88,141.62 L101.99,140.82 L102.11,140.02 L102.22,139.21 L102.32,138.41 L102.43,137.61 L102.54,136.81 L102.64,136.00 L102.75,135.20 L102.85,134.39 L102.95,133.59 L103.05,132.78 L103.15,131.97 L103.25,131.17 L103.34,130.36 L103.44,129.55 L103.53,128.75 L103.63,127.94 L103.72,127.13 L103.81,126.32 L103.91,125.52 L104.00,124.71 L104.09,123.90 L104.18,123.10 L104.27,122.29 L104.36,121.48 L104.46,120.68 L104.55,119.87 L104.64,119.07 L104.73,118.26 L104.82,117.46 L104.91,116.65 L105.00,115.85 L105.09,115.05 L105.18,114.25 L105.27,113.45 L105.37,112.65 L105.46,111.85 L105.55,111.05 L105.65,110.25 L105.74,109.46 L105.84,108.66 L105.93,107.87 L106.03,107.07 L106.13,106.28 L106.23,105.49 L106.33,104.69 L106.43,103.90 L106.53,103.11 L106.63,102.32 L106.73,101.53 L106.83,100.74 L106.94,99.95 L107.04,99.16 L107.15,98.38 L107.25,97.59 L107.36,96.80 L107.47,96.01 L107.58,95.22 L107.69,94.44 L107.80,93.65 L107.91,92.86 L108.02,92.08 L108.14,91.29 L108.25,90.50 L108.37,89.71 L108.48,88.93 L108.60,88.14 L108.72,87.35 L108.84,86.56 L108.96,85.77 L109.09,84.98 L109.21,84.19 L109.34,83.40 L109.46,82.61 L109.59,81.82 L109.72,81.03 L109.85,80.24 L109.98,79.45 L110.11,78.65 L110.25,77.86 L110.38,77.06 L110.52,76.27 L110.66,75.47 L110.80,74.67 L110.94,73.87 L111.08,73.08 L111.22,72.28 L111.37,71.47 L111.52,70.67 L111.67,69.87 L111.82,69.06 L111.97,68.26 L112.12,67.45 L112.27,66.64 L112.43,65.83 L112.59,65.03 L112.76,64.22 L112.93,63.41 L113.11,62.61 L113.29,61.82 L113.49,61.02 L113.70,60.24 L113.92,59.46 L114.15,58.69 L114.39,57.93 L114.65,57.18 L114.93,56.44 L115.23,55.72 L115.55,55.01 L115.89,54.31 L116.25,53.63 L116.66,52.96 L117.10,52.31 L117.57,51.68 L118.09,51.08 L118.64,50.52 L119.22,49.98 L119.84,49.49 L120.50,49.05 L121.18,48.65 L121.89,48.31 L122.63,48.01 L123.38,47.76 L124.14,47.54 L124.90,47.37 L125.67,47.23 L126.44,47.12 L127.22,47.05 L128.00,47.00 L128.79,46.98 L129.57,46.99 L130.36,47.01 L131.16,47.06 L131.95,47.12 L132.75,47.19 L133.55,47.28 L134.35,47.38 L135.15,47.49 L135.96,47.60 L136.76,47.71 L137.57,47.83 L138.37,47.94 L139.18,48.06 L139.98,48.16 L140.79,48.26 L141.59,48.35 L142.40,48.44 L143.20,48.52 L144.01,48.60 L144.81,48.67 L145.62,48.74 L146.42,48.80 L147.23,48.86 L148.03,48.91 L148.84,48.97 L149.64,49.01 L150.45,49.06 L151.25,49.10 L152.06,49.14 L152.86,49.18 L153.66,49.21 L154.47,49.24 L155.27,49.27 L156.08,49.30 L156.88,49.33 L157.68,49.36 L158.49,49.38 L159.29,49.41 L160.09,49.43 L160.90,49.46 L161.70,49.48 L162.50,49.51 L163.31,49.54 L164.11,49.56 L164.91,49.59 L165.72,49.62 L166.52,49.65 L167.32,49.69 L168.13,49.72 L168.93,49.75 L169.73,49.79 L170.54,49.82 L171.34,49.86 L172.14,49.90 L172.94,49.93 L173.75,49.97 L174.55,50.01 L175.35,50.05 L176.15,50.09 L176.95,50.13 L177.76,50.17 L178.56,50.21 L179.36,50.26 L180.16,50.30 L180.97,50.34 L181.77,50.38 L182.57,50.43 L183.37,50.47 L184.17,50.51 L184.98,50.56 L185.78,50.60 L186.58,50.64 L187.38,50.69 L188.18,50.73 L188.98,50.77 L189.79,50.82 L190.59,50.86 L191.39,50.90 L192.19,50.95 L192.99,50.99 L193.79,51.03 L194.60,51.07 L195.40,51.11 L196.20,51.16 L197.00,51.20 L197.80,51.24 L198.60,51.28 L199.40,51.32 L200.20,51.36 L201.01,51.40 L201.81,51.44 L202.61,51.48 L203.41,51.52 L204.21,51.56 L205.01,51.60 L205.81,51.64 L206.61,51.68 L207.42,51.72 L208.22,51.76 L209.02,51.80 L209.82,51.84 L210.62,51.88 L211.42,51.92 L212.22,51.96 L213.02,52.00 L213.82,52.04 L214.63,52.07 L215.43,52.11 L216.23,52.15 L217.03,52.19 L217.83,52.23 L218.63,52.27 L219.43,52.31 L220.23,52.35 L221.03,52.38 L221.84,52.42 L222.64,52.46 L223.44,52.50 L224.24,52.54 L225.04,52.58 L225.84,52.62 L226.64,52.66 L227.44,52.69 L228.25,52.73 L229.05,52.77 L229.85,52.81 L230.65,52.85 L231.45,52.89 L232.25,52.93 L233.05,52.97 L233.85,53.01 L234.66,53.05 L235.46,53.09 L236.26,53.13 L237.06,53.16 L237.86,53.20 L238.66,53.24 L239.46,53.28 L240.27,53.32 L241.07,53.36 L241.87,53.41 L242.67,53.45 L243.47,53.49 L244.27,53.53 L245.08,53.57 L245.88,53.61 L246.68,53.65 L247.48,53.69 L248.28,53.73 L249.08,53.78 L249.89,53.82 L250.69,53.86 L251.49,53.90 L252.29,53.95 L253.09,53.99 L253.90,54.03 L254.70,54.07 L255.50,54.12 L256.30,54.16 L257.11,54.21 L257.91,54.25 L258.71,54.29 L259.51,54.34 L260.32,54.38 L261.12,54.43 L261.92,54.47 L262.72,54.52 L263.53,54.57 L264.33,54.61 L265.13,54.66 L265.94,54.71 L266.74,54.75 L267.54,54.80 L268.34,54.85 L269.15,54.90 L269.95,54.95 L270.75,54.99 L271.56,55.04 L272.36,55.09 L273.16,55.14 L273.97,55.19 L274.77,55.24 L275.58,55.30 L276.38,55.35 L277.18,55.40 L277.99,55.45 L278.79,55.50 L279.60,55.56 L280.40,55.61 L281.20,55.66 L282.01,55.72 L282.81,55.77 L283.62,55.83 L284.42,55.88 L285.23,55.94" stroke="#ff0000" stroke-width="2.2" fill="none" stroke-linejoin="round"/>
<path d="M127.57,176.69 L128.31,176.43 L129.05,176.13 L129.77,175.81 L130.47,175.44 L131.15,175.05 L131.82,174.63 L132.46,174.18 L133.09,173.71 L133.70,173.21 L134.30,172.69 L134.87,172.15 L135.43,171.58 L135.98,171.00 L136.51,170.39 L137.02,169.77 L137.52,169.13 L138.00,168.48 L138.47,167.82 L138.93,167.14 L139.38,166.45 L139.81,165.75 L140.23,165.04 L140.64,164.32" stroke="#ffc000" stroke-width="2.2" fill="none" stroke-linejoin="round"/>
<path d="M186.72,175.12 L187.49,174.93 L188.24,174.72 L188.98,174.49 L189.71,174.24 L190.43,173.96 L191.13,173.65 L191.82,173.32 L192.49,172.95 L193.15,172.56 L193.79,172.13 L194.40,171.67 L195.00,171.17 L195.58,170.65 L196.14,170.09 L196.69,169.52 L197.22,168.91 L197.74,168.29 L198.24,167.65 L198.73,166.99 L199.21,166.31 L199.67,165.62 L200.13,164.92 L200.57,164.22" stroke="#7030a0" stroke-width="2.2" fill="none" stroke-linejoin="round"/>
<path d="M236.37,67.00 L236.75,66.28 L237.13,65.56 L237.52,64.85 L237.92,64.15 L238.33,63.45 L238.75,62.76 L239.17,62.07 L239.61,61.40 L240.05,60.73 L240.51,60.08 L240.98,59.44 L241.46,58.81 L241.95,58.19 L242.46,57.59 L242.98,57.01 L243.52,56.44 L244.07,55.89 L244.64,55.36 L245.22,54.85 L245.82,54.36 L246.44,53.89 L247.07,53.44 L247.73,53.01 L248.40,52.61 L249.09,52.23 L249.80,51.87 L250.51,51.54 L251.25,51.22 L251.99,50.92 L252.75,50.64 L253.52,50.38 L254.30,50.13 L255.09,49.90 L255.88,49.69" stroke="#7030a0" stroke-width="2.2" fill="none" stroke-linejoin="round"/>
<path d="M411.98,173.94 L412.79,173.96 L413.60,173.97 L414.41,173.99 L415.22,174.01 L416.03,174.02 L416.84,174.04 L417.64,174.05 L418.45,174.06 L419.25,174.07 L420.06,174.09 L420.86,174.10 L421.66,174.11 L422.46,174.12 L423.26,174.13 L424.06,174.14 L424.86,174.15 L425.66,174.15 L426.46,174.16 L427.25,174.17 L428.05,174.17 L428.85,174.18 L429.64,174.19 L430.44,174.19 L431.24,174.19 L432.03,174.20 L432.83,174.20 L433.63,174.20 L434.42,174.21 L435.22,174.21 L436.01,174.21 L436.81,174.21 L437.61,174.21 L438.40,174.21 L439.20,174.21 L440.00,174.20 L440.79,174.20 L441.59,174.20 L442.39,174.20 L443.19,174.19 L443.99,174.19 L444.79,174.18 L445.59,174.18 L446.39,174.17 L447.19,174.17 L448.00,174.16 L448.80,174.16 L449.61,174.15 L450.41,174.14 L451.22,174.13 L452.03,174.12 L452.84,174.11 L453.65,174.10 L454.46,174.10 L455.27,174.08 L456.08,174.07 L456.89,174.06 L457.70,174.05 L458.51,174.04 L459.33,174.03 L460.14,174.01 L460.95,174.00 L461.77,173.99 L462.58,173.97 L463.40,173.96 L464.21,173.95 L465.02,173.93 L465.84,173.92 L466.65,173.90 L467.46,173.88 L468.27,173.87 L469.09,173.85 L469.90,173.83 L470.71,173.82 L471.52,173.80 L472.33,173.78 L473.14,173.76 L473.95,173.74 L474.76,173.72 L475.56,173.70 L476.37,173.68 L477.17,173.66 L477.98,173.64 L478.78,173.62 L479.58,173.60 L480.38,173.58 L481.18,173.56 L481.97,173.54 L482.77,173.52 L483.56,173.49 L484.36,173.47 L485.15,173.45 L485.94,173.42 L486.72,173.39 L487.50,173.35 L488.28,173.29 L489.04,173.21 L489.79,173.10 L490.54,172.95 L491.26,172.77 L491.98,172.53 L492.67,172.25 L493.35,171.91 L494.00,171.50 L494.63,171.03 L495.24,170.50 L495.83,169.91 L496.40,169.29 L496.94,168.64 L497.47,167.97 L497.97,167.30 L498.46,166.61 L498.93,165.92 L499.38,165.21 L499.81,164.50 L500.22,163.79 L500.62,163.07 L501.01,162.34 L501.38,161.61 L501.73,160.88 L502.07,160.15 L502.40,159.41 L502.71,158.67 L503.02,157.93 L503.31,157.18 L503.59,156.43 L503.85,155.68 L504.11,154.93 L504.36,154.18 L504.60,153.42 L504.84,152.67 L505.06,151.91 L505.28,151.14 L505.49,150.38 L505.69,149.61 L505.89,148.85 L506.08,148.08 L506.27,147.31 L506.45,146.53 L506.63,145.76 L506.81,144.99 L506.99,144.21 L507.16,143.43 L507.33,142.65 L507.50,141.87 L507.67,141.09 L507.84,140.31 L508.02,139.53 L508.19,138.74 L508.36,137.96 L508.53,137.17 L508.70,136.39 L508.87,135.60 L509.05,134.81 L509.22,134.02 L509.39,133.23 L509.56,132.44 L509.73,131.65 L509.90,130.86 L510.07,130.07 L510.25,129.28 L510.42,128.49 L510.59,127.70 L510.75,126.90 L510.92,126.11 L511.09,125.32 L511.26,124.53 L511.42,123.73 L511.59,122.94 L511.76,122.15 L511.92,121.35 L512.08,120.56 L512.25,119.77 L512.41,118.98 L512.57,118.19 L512.73,117.39 L512.88,116.60 L513.04,115.81 L513.19,115.02 L513.35,114.23 L513.50,113.44 L513.65,112.66 L513.80,111.87 L513.95,111.08 L514.10,110.29 L514.24,109.51 L514.38,108.72 L514.52,107.94 L514.66,107.16 L514.80,106.37 L514.94,105.59 L515.08,104.81 L515.21,104.03 L515.34,103.25 L515.48,102.47 L515.61,101.69 L515.74,100.91 L515.88,100.13 L516.01,99.35 L516.14,98.57 L516.28,97.79 L516.41,97.01 L516.55,96.23 L516.68,95.45 L516.82,94.67 L516.96,93.89 L517.10,93.11 L517.24,92.33 L517.38,91.54 L517.53,90.76 L517.67,89.97 L517.82,89.19 L517.97,88.40 L518.13,87.61 L518.29,86.82 L518.45,86.03 L518.61,85.24 L518.78,84.44 L518.95,83.65 L519.12,82.85 L519.30,82.05 L519.48,81.25 L519.67,80.45 L519.86,79.65 L520.05,78.85 L520.25,78.05 L520.45,77.24 L520.66,76.44 L520.88,75.64 L521.10,74.85 L521.32,74.06 L521.55,73.26 L521.79,72.48 L522.03,71.70 L522.28,70.92 L522.53,70.15 L522.80,69.38 L523.06,68.62 L523.34,67.87 L523.62,67.12 L523.91,66.38 L524.21,65.65 L524.51,64.93 L524.83,64.21 L525.16,63.51 L525.50,62.82 L525.85,62.13 L526.22,61.46 L526.60,60.79 L527.00,60.14 L527.42,59.50 L527.85,58.86 L528.30,58.24 L528.77,57.64 L529.27,57.04 L529.78,56.46 L530.32,55.89 L530.88,55.34 L531.46,54.79 L532.07,54.27 L532.70,53.75 L533.34,53.25 L534.00,52.77 L534.67,52.30 L535.36,51.85 L536.07,51.41 L536.78,51.00 L537.50,50.59 L538.23,50.21 L538.97,49.84 L539.71,49.49 L540.45,49.16 L541.20,48.84 L541.95,48.54 L542.71,48.26 L543.46,47.99 L544.22,47.73 L544.99,47.48 L545.75,47.24 L546.52,47.01 L547.29,46.79 L548.06,46.58 L548.84,46.37 L549.61,46.16 L550.39,45.96 L551.17,45.76 L551.95,45.56 L552.74,45.36 L553.52,45.15 L554.31,44.94 L555.09,44.74 L555.88,44.53 L556.67,44.35 L557.47,44.19 L558.26,44.06 L559.05,43.97 L559.84,43.92 L560.64,43.90 L561.43,43.91 L562.23,43.93 L563.03,43.96 L563.82,43.99 L564.62,44.02 L565.41,44.05 L566.21,44.09 L567.01,44.12 L567.81,44.15 L568.60,44.19 L569.40,44.22 L570.20,44.26 L571.00,44.29 L571.80,44.33 L572.60,44.36 L573.40,44.39 L574.19,44.43 L574.99,44.46 L575.79,44.49 L576.59,44.52 L577.39,44.55 L578.19,44.58 L578.99,44.61 L579.79,44.64 L580.60,44.66 L581.40,44.69 L582.20,44.71 L583.00,44.73 L583.80,44.75 L584.60,44.77 L585.40,44.79 L586.20,44.80 L587.01,44.81 L587.81,44.82 L588.61,44.83 L589.41,44.84 L590.22,44.84 L591.02,44.84 L591.82,44.84 L592.62,44.84 L593.43,44.83 L594.23,44.82 L595.03,44.81 L595.84,44.80 L596.64,44.78 L597.44,44.75 L598.25,44.73 L599.05,44.70 L599.85,44.67 L600.66,44.63 L601.46,44.59 L602.26,44.55 L603.07,44.51 L603.87,44.46 L604.67,44.41 L605.48,44.36 L606.28,44.31 L607.08,44.26 L607.89,44.21 L608.69,44.16 L609.50,44.11 L610.30,44.06 L611.10,44.01 L611.91,43.96 L612.71,43.92 L613.51,43.88 L614.32,43.84 L615.12,43.80 L615.92,43.77 L616.73,43.74 L617.53,43.72 L618.33,43.70 L619.14,43.69 L619.94,43.68 L620.74,43.68 L621.55,43.68 L622.35,43.69 L623.15,43.71 L623.96,43.72 L624.76,43.75 L625.56,43.77 L626.36,43.80 L627.17,43.84 L627.97,43.87 L628.77,43.91 L629.57,43.95 L630.38,43.99 L631.18,44.03 L631.98,44.07 L632.78,44.12 L633.58,44.16 L634.38,44.20 L635.19,44.24 L635.99,44.28 L636.79,44.32 L637.59,44.36 L638.39,44.39 L639.19,44.42 L639.99,44.45 L640.79,44.48 L641.59,44.50 L642.39,44.51 L643.19,44.52 L643.99,44.53 L644.79,44.53 L645.58,44.52 L646.38,44.51 L647.18,44.49" stroke="#ff0000" stroke-width="2.2" fill="none" stroke-linejoin="round"/>
<path d="M404.86,169.54 L405.65,169.80 L406.45,170.06 L407.25,170.30 L408.05,170.53 L408.85,170.76 L409.65,170.96 L410.45,171.16 L411.25,171.35 L412.04,171.53 L412.84,171.70 L413.64,171.86 L414.44,172.00 L415.24,172.14 L416.04,172.28 L416.84,172.40 L417.64,172.51 L418.44,172.62 L419.24,172.72 L420.04,172.81 L420.84,172.89 L421.64,172.97 L422.44,173.04 L423.24,173.10 L424.04,173.16 L424.84,173.21 L425.64,173.26 L426.44,173.30 L427.24,173.33 L428.04,173.37 L428.84,173.39 L429.64,173.42 L430.44,173.44 L431.24,173.45 L432.04,173.47 L432.84,173.48 L433.64,173.48 L434.44,173.49 L435.24,173.49 L436.04,173.49 L436.85,173.49 L437.65,173.49 L438.45,173.49 L439.25,173.48 L440.05,173.48 L440.85,173.47 L441.65,173.47 L442.45,173.47 L443.25,173.46 L444.06,173.46 L444.86,173.45 L445.66,173.45 L446.46,173.44 L447.26,173.44 L448.06,173.43 L448.86,173.43 L449.67,173.42 L450.47,173.42 L451.27,173.41 L452.07,173.41 L452.87,173.40 L453.68,173.40 L454.48,173.39 L455.28,173.39 L456.08,173.38 L456.88,173.38 L457.69,173.37 L458.49,173.37 L459.29,173.36 L460.09,173.36 L460.89,173.35 L461.70,173.35 L462.50,173.34 L463.30,173.34 L464.10,173.33 L464.91,173.33 L465.71,173.32 L466.51,173.32 L467.31,173.32 L468.12,173.31 L468.92,173.31 L469.72,173.31 L470.52,173.30 L471.33,173.30 L472.13,173.30 L472.93,173.30 L473.74,173.29 L474.54,173.29 L475.34,173.29 L476.14,173.29 L476.95,173.29 L477.75,173.29 L478.55,173.29 L479.36,173.29 L480.16,173.29 L480.96,173.29 L481.77,173.29 L482.57,173.29 L483.37,173.29 L484.18,173.29 L484.98,173.29 L485.78,173.30 L486.59,173.30 L487.39,173.30 L488.19,173.30 L489.00,173.31 L489.80,173.31 L490.60,173.31 L491.41,173.32 L492.21,173.32 L493.01,173.33 L493.82,173.34 L494.62,173.34 L495.43,173.35 L496.23,173.35 L497.03,173.36 L497.84,173.37 L498.64,173.38 L499.44,173.39 L500.25,173.40 L501.05,173.41 L501.86,173.42 L502.66,173.43 L503.46,173.44 L504.27,173.45 L505.07,173.46 L505.88,173.47 L506.68,173.48 L507.48,173.50 L508.29,173.51 L509.09,173.53 L509.90,173.54 L510.70,173.56 L511.51,173.57 L512.31,173.59 L513.11,173.61 L513.92,173.62 L514.72,173.64 L515.53,173.66 L516.33,173.68 L517.13,173.70 L517.94,173.72 L518.74,173.74 L519.55,173.76 L520.35,173.79 L521.16,173.81 L521.96,173.83 L522.76,173.86 L523.57,173.88 L524.37,173.91 L525.18,173.93 L525.98,173.96 L526.79,173.98 L527.59,174.01 L528.40,174.03 L529.20,174.06 L530.00,174.08 L530.81,174.11 L531.61,174.13 L532.42,174.16 L533.22,174.18 L534.03,174.21 L534.83,174.23 L535.64,174.25 L536.44,174.27 L537.25,174.30 L538.05,174.32 L538.85,174.34 L539.66,174.36 L540.46,174.37 L541.27,174.39 L542.07,174.41 L542.88,174.42 L543.68,174.44 L544.49,174.45 L545.29,174.46 L546.10,174.48 L546.90,174.49 L547.71,174.50 L548.51,174.51 L549.31,174.52 L550.12,174.52 L550.92,174.53 L551.73,174.54 L552.53,174.54 L553.34,174.55 L554.14,174.55 L554.95,174.56 L555.75,174.56 L556.56,174.56 L557.36,174.56 L558.16,174.56 L558.97,174.56 L559.77,174.56 L560.58,174.56 L561.38,174.56 L562.19,174.55 L562.99,174.55 L563.80,174.55 L564.60,174.54 L565.41,174.54 L566.21,174.53 L567.01,174.53 L567.82,174.52 L568.62,174.51 L569.43,174.50 L570.23,174.49 L571.04,174.49 L571.84,174.48 L572.65,174.47 L573.45,174.46 L574.26,174.45 L575.06,174.43 L575.86,174.42 L576.67,174.41 L577.47,174.40 L578.28,174.38 L579.08,174.37 L579.89,174.36 L580.69,174.34 L581.49,174.33 L582.30,174.31 L583.10,174.30 L583.91,174.28 L584.71,174.27 L585.52,174.25 L586.32,174.24 L587.12,174.22 L587.93,174.20 L588.73,174.19 L589.54,174.17 L590.34,174.15 L591.15,174.13 L591.95,174.12 L592.75,174.10 L593.56,174.08 L594.36,174.06 L595.17,174.04 L595.97,174.02 L596.77,174.00 L597.58,173.99 L598.38,173.97 L599.19,173.95 L599.99,173.93 L600.79,173.91 L601.60,173.89 L602.40,173.87 L603.21,173.85 L604.01,173.83 L604.81,173.81 L605.62,173.79 L606.42,173.77 L607.22,173.75 L608.03,173.73 L608.83,173.71 L609.64,173.69 L610.44,173.67 L611.24,173.66 L612.05,173.64 L612.85,173.62 L613.65,173.60 L614.46,173.58 L615.26,173.56 L616.06,173.54 L616.87,173.52 L617.67,173.50 L618.47,173.49 L619.28,173.47 L620.08,173.45 L620.88,173.43 L621.69,173.42 L622.49,173.40 L623.29,173.38 L624.10,173.37 L624.90,173.35 L625.70,173.33 L626.50,173.32 L627.31,173.30 L628.11,173.29 L628.91,173.27 L629.72,173.26 L630.52,173.24 L631.32,173.23 L632.12,173.22 L632.93,173.20 L633.73,173.19 L634.53,173.18 L635.33,173.17 L636.14,173.16 L636.94,173.15 L637.74,173.14 L638.54,173.13 L639.35,173.12 L640.15,173.11 L640.95,173.10 L641.75,173.09 L642.56,173.08 L643.36,173.08 L644.16,173.07 L644.96,173.07 L645.76,173.06 L646.57,173.06 L647.37,173.05 L648.17,173.05 L648.97,173.05" stroke="#2aa8ea" stroke-width="2.2" fill="none" stroke-linejoin="round"/>
<path d="M404.96,172.01 L405.75,172.20 L406.55,172.39 L407.35,172.56 L408.15,172.73 L408.95,172.90 L409.74,173.05 L410.54,173.20 L411.34,173.34 L412.14,173.47 L412.94,173.60 L413.74,173.72 L414.54,173.84 L415.33,173.95 L416.13,174.05 L416.93,174.15 L417.73,174.24 L418.53,174.32 L419.33,174.40 L420.13,174.48 L420.93,174.55 L421.72,174.61 L422.52,174.67 L423.32,174.72 L424.12,174.77 L424.92,174.82 L425.72,174.86 L426.52,174.90 L427.32,174.93 L428.12,174.96 L428.92,174.99 L429.72,175.01 L430.52,175.03 L431.32,175.04 L432.11,175.06 L432.91,175.07 L433.71,175.07 L434.51,175.08 L435.31,175.08 L436.11,175.08 L436.91,175.08 L437.71,175.07 L438.51,175.07 L439.31,175.06 L440.11,175.05 L440.91,175.04 L441.71,175.03 L442.51,175.01 L443.31,175.00 L444.11,174.98 L444.91,174.97 L445.72,174.95 L446.52,174.93 L447.32,174.92 L448.12,174.90 L448.92,174.88 L449.72,174.87 L450.52,174.85 L451.32,174.83 L452.12,174.82 L452.92,174.80 L453.72,174.79 L454.52,174.77 L455.33,174.76 L456.13,174.75 L456.93,174.73 L457.73,174.72 L458.53,174.71 L459.33,174.70 L460.13,174.69 L460.94,174.68 L461.74,174.67 L462.54,174.65 L463.34,174.64 L464.14,174.64 L464.95,174.63 L465.75,174.62 L466.55,174.61 L467.35,174.60 L468.15,174.59 L468.96,174.59 L469.76,174.58 L470.56,174.57 L471.36,174.57 L472.17,174.56 L472.97,174.55 L473.77,174.55 L474.58,174.54 L475.38,174.54 L476.18,174.53 L476.99,174.53 L477.79,174.53 L478.59,174.52 L479.40,174.52 L480.20,174.52 L481.00,174.51 L481.81,174.51 L482.61,174.51 L483.41,174.51 L484.22,174.51 L485.02,174.50 L485.83,174.50 L486.63,174.50 L487.43,174.50 L488.24,174.50 L489.04,174.50 L489.85,174.50 L490.65,174.50 L491.46,174.50 L492.26,174.50 L493.07,174.50 L493.87,174.50 L494.68,174.50 L495.48,174.51 L496.29,174.51 L497.09,174.51 L497.90,174.51 L498.70,174.51 L499.51,174.52 L500.31,174.52 L501.12,174.52 L501.93,174.53 L502.73,174.53 L503.54,174.53 L504.34,174.54 L505.15,174.54 L505.96,174.54 L506.76,174.55 L507.57,174.55 L508.38,174.56 L509.18,174.56 L509.99,174.56 L510.80,174.57 L511.60,174.57 L512.41,174.58 L513.22,174.58 L514.03,174.59 L514.83,174.59 L515.64,174.59 L516.45,174.59 L517.25,174.60 L518.06,174.60 L518.86,174.60 L519.67,174.60 L520.47,174.59 L521.28,174.59 L522.08,174.58 L522.89,174.58 L523.69,174.57 L524.49,174.56 L525.30,174.54 L526.10,174.53 L526.90,174.51 L527.70,174.50 L528.50,174.47 L529.30,174.45 L530.09,174.42 L530.89,174.40 L531.69,174.36 L532.48,174.33 L533.28,174.29 L534.07,174.24 L534.86,174.19 L535.65,174.13 L536.44,174.06 L537.23,173.99 L538.02,173.91 L538.80,173.82 L539.59,173.71 L540.37,173.60 L541.15,173.48 L541.93,173.34 L542.71,173.20 L543.49,173.04 L544.27,172.86 L545.04,172.67 L545.81,172.47 L546.58,172.25 L547.35,172.02 L548.12,171.78 L548.89,171.52 L549.65,171.25 L550.41,170.97 L551.17,170.68 L551.93,170.38 L552.69,170.07 L553.44,169.76 L554.19,169.43 L554.93,169.08 L555.66,168.73 L556.39,168.36 L557.10,167.97 L557.79,167.56 L558.48,167.14 L559.14,166.70 L559.79,166.23 L560.42,165.74 L561.02,165.23 L561.61,164.70 L562.17,164.14 L562.71,163.55 L563.22,162.95 L563.72,162.33 L564.20,161.69 L564.66,161.03 L565.10,160.36 L565.53,159.67 L565.94,158.98 L566.33,158.27 L566.71,157.55 L567.08,156.83 L567.44,156.10 L567.79,155.36 L568.13,154.62 L568.45,153.88 L568.77,153.14 L569.09,152.40 L569.39,151.66 L569.69,150.92 L569.98,150.18 L570.27,149.44 L570.56,148.71 L570.84,147.97 L571.11,147.23 L571.38,146.49 L571.65,145.75 L571.92,145.01 L572.19,144.27 L572.46,143.53 L572.72,142.79 L572.99,142.05 L573.26,141.31 L573.53,140.57 L573.80,139.83 L574.07,139.09 L574.35,138.34 L574.62,137.60 L574.90,136.86 L575.18,136.11 L575.46,135.37 L575.75,134.62 L576.03,133.87 L576.31,133.12 L576.59,132.37 L576.87,131.62 L577.16,130.87 L577.44,130.12 L577.71,129.36 L577.99,128.61 L578.27,127.85 L578.54,127.09 L578.81,126.33 L579.07,125.57 L579.34,124.81 L579.60,124.04 L579.86,123.28 L580.11,122.51 L580.37,121.74 L580.62,120.97 L580.87,120.20 L581.11,119.43 L581.36,118.66 L581.60,117.88 L581.84,117.11 L582.08,116.34 L582.32,115.56 L582.56,114.79 L582.80,114.01 L583.03,113.23 L583.27,112.46 L583.51,111.68 L583.74,110.91 L583.98,110.13 L584.22,109.36 L584.46,108.58 L584.69,107.81 L584.93,107.03 L585.17,106.26 L585.41,105.48 L585.65,104.71 L585.90,103.94 L586.14,103.17 L586.39,102.40 L586.64,101.63 L586.89,100.86 L587.14,100.10 L587.40,99.33 L587.65,98.57 L587.92,97.81 L588.18,97.05 L588.45,96.29 L588.72,95.53 L588.99,94.78 L589.27,94.03 L589.55,93.27 L589.84,92.53 L590.13,91.78 L590.42,91.04 L590.72,90.29 L591.02,89.56 L591.33,88.82 L591.64,88.08 L591.96,87.35 L592.28,86.63 L592.61,85.90 L592.95,85.18 L593.29,84.46 L593.63,83.74 L593.99,83.03 L594.35,82.32 L594.71,81.62 L595.08,80.91 L595.46,80.22 L595.85,79.52 L596.24,78.83 L596.64,78.14 L597.05,77.46 L597.46,76.78 L597.89,76.11 L598.32,75.44 L598.75,74.77 L599.20,74.11 L599.65,73.45 L600.11,72.80 L600.58,72.15 L601.05,71.51 L601.54,70.87 L602.03,70.24 L602.53,69.61 L603.03,68.98 L603.55,68.37 L604.07,67.75 L604.61,67.15 L605.15,66.55 L605.70,65.95 L606.25,65.36 L606.82,64.78 L607.40,64.21 L607.98,63.65 L608.58,63.10 L609.19,62.57 L609.81,62.06 L610.45,61.57 L611.10,61.10 L611.76,60.66 L612.43,60.24 L613.12,59.84 L613.82,59.48 L614.54,59.14 L615.27,58.82 L616.00,58.52 L616.75,58.24 L617.51,57.98 L618.27,57.73 L619.04,57.50 L619.81,57.28 L620.59,57.06 L621.37,56.86 L622.16,56.66 L622.94,56.47 L623.72,56.28 L624.51,56.10 L625.29,55.91 L626.08,55.73 L626.87,55.56 L627.65,55.38 L628.44,55.21 L629.23,55.04 L630.02,54.87 L630.80,54.70 L631.59,54.53 L632.38,54.36 L633.17,54.19 L633.95,54.02 L634.74,53.85 L635.53,53.68 L636.31,53.50 L637.09,53.32 L637.88,53.14 L638.66,52.96 L639.44,52.77 L640.22,52.58 L641.00,52.39 L641.78,52.19 L642.56,51.99 L643.33,51.79 L644.11,51.59 L644.88,51.39 L645.65,51.18 L646.42,50.98 L647.19,50.77" stroke="#ffc000" stroke-width="2.2" fill="none" stroke-linejoin="round"/>
<path d="M404.84,170.62 L405.64,170.88 L406.43,171.13 L407.23,171.37 L408.03,171.60 L408.83,171.82 L409.63,172.02 L410.42,172.22 L411.22,172.40 L412.02,172.58 L412.82,172.75 L413.62,172.90 L414.42,173.05 L415.21,173.19 L416.01,173.32 L416.81,173.44 L417.61,173.56 L418.41,173.67 L419.21,173.76 L420.01,173.86 L420.81,173.94 L421.61,174.02 L422.41,174.09 L423.21,174.15 L424.00,174.21 L424.80,174.27 L425.60,174.31 L426.40,174.36 L427.20,174.39 L428.00,174.43 L428.80,174.45 L429.60,174.48 L430.40,174.50 L431.20,174.51 L432.00,174.53 L432.80,174.54 L433.60,174.54 L434.40,174.55 L435.20,174.55 L436.01,174.55 L436.81,174.55 L437.61,174.54 L438.41,174.54 L439.21,174.53 L440.01,174.53 L440.81,174.52 L441.61,174.51 L442.41,174.50 L443.21,174.49 L444.01,174.48 L444.81,174.47 L445.62,174.46 L446.42,174.45 L447.22,174.44 L448.02,174.43 L448.82,174.41 L449.62,174.40 L450.42,174.39 L451.23,174.38 L452.03,174.36 L452.83,174.35 L453.63,174.33 L454.43,174.32 L455.23,174.31 L456.04,174.29 L456.84,174.28 L457.64,174.26 L458.44,174.25 L459.24,174.23 L460.05,174.22 L460.85,174.20 L461.65,174.19 L462.45,174.17 L463.26,174.16 L464.06,174.14 L464.86,174.13 L465.66,174.11 L466.47,174.10 L467.27,174.08 L468.07,174.07 L468.87,174.06 L469.68,174.04 L470.48,174.03 L471.28,174.01 L472.09,174.00 L472.89,173.99 L473.69,173.97 L474.49,173.96 L475.30,173.95 L476.10,173.94 L476.90,173.92 L477.71,173.91 L478.51,173.90 L479.31,173.89 L480.12,173.88 L480.92,173.87 L481.72,173.86 L482.53,173.84 L483.33,173.83 L484.13,173.82 L484.94,173.81 L485.74,173.80 L486.55,173.79 L487.35,173.78 L488.15,173.77 L488.96,173.76 L489.76,173.75 L490.56,173.74 L491.37,173.73 L492.17,173.72 L492.98,173.72 L493.78,173.71 L494.58,173.70 L495.39,173.69 L496.19,173.68 L497.00,173.67 L497.80,173.66 L498.60,173.65 L499.41,173.64 L500.21,173.63 L501.02,173.63 L501.82,173.62 L502.62,173.61 L503.43,173.60 L504.23,173.59 L505.04,173.58 L505.84,173.57 L506.65,173.57 L507.45,173.56 L508.25,173.55 L509.06,173.54 L509.86,173.53 L510.67,173.52 L511.47,173.51 L512.28,173.51 L513.08,173.50 L513.89,173.49 L514.69,173.48 L515.50,173.47 L516.30,173.46 L517.10,173.45 L517.91,173.44 L518.71,173.43 L519.52,173.43 L520.32,173.42 L521.13,173.41 L521.93,173.40 L522.74,173.39 L523.54,173.38 L524.35,173.37 L525.15,173.36 L525.96,173.35 L526.76,173.34 L527.57,173.33 L528.37,173.32 L529.18,173.31 L529.98,173.30 L530.79,173.29 L531.59,173.28 L532.40,173.27 L533.20,173.25 L534.01,173.24 L534.81,173.23 L535.61,173.22 L536.42,173.21 L537.22,173.20 L538.03,173.18 L538.83,173.17 L539.64,173.16 L540.44,173.15 L541.25,173.14 L542.05,173.12 L542.86,173.11 L543.66,173.10 L544.47,173.08 L545.27,173.07 L546.08,173.06 L546.88,173.05 L547.69,173.03 L548.49,173.02 L549.30,173.00 L550.10,172.99 L550.91,172.98 L551.71,172.96 L552.52,172.95 L553.32,172.93 L554.13,172.92 L554.93,172.91 L555.74,172.89 L556.54,172.88 L557.35,172.86 L558.15,172.85 L558.96,172.83 L559.76,172.82 L560.57,172.80 L561.37,172.79 L562.18,172.77 L562.98,172.76 L563.79,172.74 L564.59,172.72 L565.40,172.71 L566.20,172.69 L567.01,172.68 L567.81,172.66 L568.62,172.64 L569.42,172.63 L570.23,172.61 L571.03,172.60 L571.84,172.58 L572.64,172.56 L573.45,172.55 L574.25,172.53 L575.06,172.51 L575.86,172.49 L576.67,172.48 L577.47,172.46 L578.28,172.44 L579.08,172.43 L579.88,172.41 L580.69,172.39 L581.49,172.37 L582.30,172.36 L583.10,172.34 L583.91,172.32 L584.71,172.30 L585.52,172.29 L586.32,172.27 L587.13,172.25 L587.93,172.23 L588.73,172.21 L589.54,172.20 L590.34,172.18 L591.15,172.16 L591.95,172.14 L592.76,172.12 L593.56,172.10 L594.36,172.09 L595.17,172.07 L595.97,172.05 L596.78,172.03 L597.58,172.01 L598.39,171.99 L599.19,171.97 L599.99,171.95 L600.80,171.94 L601.60,171.92 L602.41,171.90 L603.21,171.88 L604.01,171.86 L604.82,171.84 L605.62,171.82 L606.43,171.80 L607.23,171.78 L608.03,171.76 L608.84,171.74 L609.64,171.72 L610.44,171.70 L611.25,171.69 L612.05,171.67 L612.85,171.65 L613.66,171.63 L614.46,171.61 L615.27,171.59 L616.07,171.57 L616.87,171.55 L617.68,171.53 L618.48,171.51 L619.28,171.49 L620.08,171.47 L620.89,171.45 L621.69,171.43 L622.49,171.41 L623.30,171.39 L624.10,171.37 L624.90,171.35 L625.71,171.33 L626.51,171.31 L627.31,171.29 L628.11,171.27 L628.92,171.25 L629.72,171.23 L630.52,171.21 L631.33,171.19 L632.13,171.17 L632.93,171.15 L633.73,171.13 L634.54,171.11 L635.34,171.09 L636.14,171.07 L636.94,171.05 L637.74,171.03 L638.55,171.01 L639.35,170.99 L640.15,170.97 L640.95,170.95 L641.75,170.93 L642.56,170.91 L643.36,170.89 L644.16,170.87 L644.96,170.85 L645.76,170.83 L646.57,170.81 L647.37,170.79 L648.17,170.77 L648.97,170.75" stroke="#7030a0" stroke-width="2.2" fill="none" stroke-linejoin="round"/>
<path d="M405.44,166.69 L406.15,167.20 L406.86,167.69 L407.59,168.15 L408.31,168.58 L409.05,168.98 L409.78,169.36 L410.53,169.71 L411.27,170.03 L412.02,170.34 L412.78,170.61 L413.54,170.87 L414.30,171.11 L415.07,171.32 L415.84,171.52 L416.61,171.69 L417.39,171.85 L418.17,172.00 L418.95,172.12 L419.74,172.23 L420.53,172.33 L421.32,172.41 L422.11,172.48 L422.90,172.54 L423.70,172.59 L424.50,172.63 L425.30,172.65 L426.10,172.67 L426.91,172.69 L427.71,172.69 L428.51,172.69 L429.32,172.69 L430.13,172.68 L430.93,172.67 L431.74,172.65 L432.55,172.63 L433.36,172.62 L434.16,172.60 L434.97,172.59 L435.77,172.57 L436.58,172.56 L437.38,172.55 L438.19,172.54 L438.99,172.53 L439.80,172.52 L440.60,172.52 L441.40,172.51 L442.20,172.50 L443.00,172.49 L443.81,172.48 L444.61,172.47 L445.41,172.46 L446.21,172.45 L447.01,172.43 L447.81,172.41 L448.61,172.39 L449.40,172.37 L450.20,172.35 L451.00,172.32 L451.80,172.28 L452.60,172.25 L453.40,172.20 L454.19,172.16 L454.99,172.11 L455.79,172.05 L456.59,171.99 L457.39,171.93 L458.18,171.85 L458.98,171.78 L459.78,171.69 L460.57,171.60 L461.37,171.50 L462.17,171.39 L462.97,171.28 L463.77,171.16 L464.56,171.04 L465.36,170.92 L466.16,170.79 L466.96,170.66 L467.76,170.54 L468.55,170.42 L469.35,170.30 L470.15,170.19 L470.95,170.09 L471.75,170.00 L472.55,169.92 L473.35,169.85 L474.15,169.80 L474.95,169.76 L475.75,169.73 L476.56,169.72 L477.36,169.73 L478.16,169.74 L478.96,169.77 L479.77,169.80 L480.57,169.85 L481.37,169.89 L482.18,169.94 L482.98,170.00 L483.79,170.05 L484.59,170.10 L485.40,170.15 L486.20,170.19 L487.01,170.23 L487.81,170.26 L488.62,170.28 L489.43,170.29 L490.23,170.30 L491.04,170.29 L491.85,170.28 L492.65,170.26 L493.46,170.24 L494.27,170.20 L495.08,170.17 L495.88,170.13 L496.69,170.08 L497.50,170.03 L498.31,169.98 L499.12,169.93 L499.92,169.87 L500.73,169.81 L501.54,169.76 L502.35,169.70 L503.16,169.64 L503.97,169.59 L504.78,169.53 L505.58,169.48 L506.39,169.43 L507.20,169.38 L508.01,169.34 L508.82,169.30 L509.63,169.26 L510.44,169.22 L511.25,169.18 L512.05,169.14 L512.86,169.10 L513.67,169.07 L514.48,169.03 L515.29,169.00 L516.10,168.96 L516.90,168.93 L517.71,168.89 L518.52,168.86 L519.33,168.83 L520.13,168.79 L520.94,168.75 L521.75,168.72 L522.56,168.68 L523.36,168.64 L524.17,168.60 L524.98,168.56 L525.78,168.51 L526.59,168.46 L527.39,168.41 L528.20,168.36 L529.00,168.31 L529.81,168.25 L530.61,168.19 L531.42,168.12 L532.22,168.05 L533.03,167.98 L533.83,167.90 L534.63,167.82 L535.44,167.73 L536.24,167.64 L537.04,167.54 L537.84,167.44 L538.64,167.34 L539.44,167.23 L540.24,167.12 L541.04,167.00 L541.84,166.89 L542.64,166.78 L543.44,166.67 L544.24,166.57 L545.04,166.47 L545.84,166.37 L546.63,166.28 L547.43,166.20 L548.23,166.13 L549.02,166.07 L549.82,166.02 L550.61,165.99 L551.41,165.96 L552.20,165.96 L552.99,165.96 L553.79,165.99 L554.58,166.03 L555.37,166.08 L556.16,166.15 L556.95,166.23 L557.74,166.32 L558.53,166.42 L559.32,166.53 L560.11,166.64 L560.90,166.76 L561.69,166.89 L562.47,167.01 L563.26,167.14 L564.05,167.26 L564.83,167.39 L565.62,167.51 L566.40,167.62 L567.19,167.73 L567.97,167.83 L568.76,167.93 L569.54,168.01 L570.32,168.08 L571.11,168.14 L571.89,168.19 L572.67,168.21 L573.46,168.22 L574.24,168.22 L575.02,168.19 L575.80,168.13 L576.58,168.06 L577.36,167.96 L578.14,167.83 L578.93,167.69 L579.71,167.52 L580.49,167.34 L581.27,167.14 L582.05,166.93 L582.83,166.70 L583.61,166.46 L584.39,166.21 L585.17,165.95 L585.95,165.69 L586.73,165.42 L587.50,165.15 L588.28,164.87 L589.06,164.59 L589.84,164.32 L590.62,164.05 L591.40,163.78 L592.18,163.51 L592.96,163.25 L593.74,162.99 L594.52,162.74 L595.30,162.48 L596.08,162.23 L596.86,161.99 L597.64,161.74 L598.42,161.50 L599.20,161.27 L599.98,161.03 L600.76,160.80 L601.54,160.58 L602.32,160.36 L603.10,160.14 L603.88,159.92 L604.66,159.71 L605.44,159.50 L606.22,159.29 L607.00,159.09 L607.78,158.89 L608.56,158.69 L609.35,158.50 L610.13,158.31 L610.91,158.13 L611.69,157.95 L612.48,157.77 L613.26,157.59 L614.04,157.42 L614.83,157.26 L615.61,157.09 L616.40,156.93 L617.18,156.78 L617.97,156.63 L618.75,156.48 L619.54,156.34 L620.33,156.20 L621.11,156.07 L621.90,155.95 L622.69,155.85 L623.48,155.77 L624.27,155.70 L625.06,155.65 L625.85,155.61 L626.64,155.59 L627.43,155.59 L628.22,155.59 L629.01,155.60 L629.80,155.63 L630.59,155.66 L631.39,155.70 L632.18,155.74 L632.98,155.79 L633.77,155.84 L634.57,155.89 L635.36,155.94 L636.16,155.99 L636.96,156.03 L637.76,156.07 L638.56,156.11 L639.36,156.14 L640.16,156.16 L640.96,156.18 L641.76,156.18 L642.56,156.17 L643.36,156.15 L644.17,156.12 L644.97,156.06 L645.78,156.00 L646.59,155.91 L647.39,155.80" stroke="#1a8a1a" stroke-width="1.6" fill="none" stroke-linejoin="round"/>
<path d="M405.38,168.04 L406.10,168.56 L406.83,169.06 L407.56,169.52 L408.29,169.96 L409.03,170.37 L409.77,170.75 L410.52,171.11 L411.27,171.44 L412.02,171.74 L412.78,172.02 L413.53,172.28 L414.30,172.52 L415.06,172.74 L415.83,172.94 L416.59,173.12 L417.36,173.28 L418.14,173.43 L418.91,173.56 L419.69,173.68 L420.46,173.78 L421.24,173.87 L422.02,173.95 L422.80,174.02 L423.59,174.07 L424.37,174.12 L425.16,174.15 L425.94,174.18 L426.73,174.20 L427.52,174.21 L428.31,174.22 L429.11,174.22 L429.90,174.21 L430.69,174.20 L431.49,174.19 L432.29,174.18 L433.08,174.16 L433.88,174.14 L434.68,174.12 L435.48,174.11 L436.28,174.09 L437.08,174.07 L437.88,174.05 L438.69,174.04 L439.49,174.02 L440.30,174.00 L441.10,173.98 L441.91,173.96 L442.71,173.94 L443.52,173.92 L444.32,173.90 L445.13,173.87 L445.94,173.84 L446.75,173.82 L447.56,173.79 L448.36,173.75 L449.17,173.72 L449.98,173.68 L450.79,173.64 L451.60,173.60 L452.41,173.55 L453.22,173.50 L454.03,173.45 L454.83,173.40 L455.64,173.34 L456.45,173.27 L457.26,173.21 L458.07,173.14 L458.88,173.07 L459.69,173.00 L460.49,172.92 L461.30,172.84 L462.11,172.76 L462.92,172.68 L463.73,172.60 L464.53,172.52 L465.34,172.44 L466.15,172.36 L466.96,172.27 L467.76,172.19 L468.57,172.11 L469.38,172.03 L470.18,171.95 L470.99,171.88 L471.80,171.80 L472.60,171.73 L473.41,171.66 L474.22,171.59 L475.02,171.52 L475.83,171.46 L476.64,171.40 L477.44,171.34 L478.25,171.29 L479.06,171.24 L479.86,171.19 L480.67,171.14 L481.47,171.10 L482.28,171.06 L483.08,171.02 L483.89,170.98 L484.69,170.94 L485.50,170.91 L486.31,170.87 L487.11,170.84 L487.92,170.81 L488.72,170.78 L489.53,170.75 L490.33,170.73 L491.14,170.70 L491.94,170.67 L492.74,170.65 L493.55,170.62 L494.35,170.60 L495.16,170.57 L495.96,170.55 L496.77,170.53 L497.57,170.50 L498.38,170.48 L499.18,170.45 L499.98,170.42 L500.79,170.40 L501.59,170.37 L502.40,170.34 L503.20,170.31 L504.00,170.28 L504.81,170.25 L505.61,170.22 L506.41,170.19 L507.22,170.16 L508.02,170.13 L508.82,170.09 L509.63,170.06 L510.43,170.03 L511.23,169.99 L512.04,169.96 L512.84,169.93 L513.64,169.90 L514.45,169.86 L515.25,169.83 L516.05,169.80 L516.85,169.76 L517.66,169.73 L518.46,169.70 L519.26,169.66 L520.07,169.63 L520.87,169.60 L521.67,169.57 L522.47,169.54 L523.28,169.51 L524.08,169.48 L524.88,169.45 L525.68,169.42 L526.49,169.39 L527.29,169.36 L528.09,169.34 L528.89,169.31 L529.69,169.28 L530.50,169.26 L531.30,169.24 L532.10,169.21 L532.90,169.19 L533.70,169.17 L534.51,169.15 L535.31,169.13 L536.11,169.11 L536.91,169.10 L537.71,169.08 L538.52,169.07 L539.32,169.06 L540.12,169.05 L540.92,169.04 L541.72,169.03 L542.52,169.02 L543.33,169.02 L544.13,169.01 L544.93,169.01 L545.73,169.01 L546.53,169.01 L547.33,169.01 L548.14,169.02 L548.94,169.02 L549.74,169.03 L550.54,169.03 L551.34,169.04 L552.14,169.04 L552.94,169.05 L553.75,169.05 L554.55,169.06 L555.35,169.06 L556.15,169.06 L556.95,169.06 L557.75,169.06 L558.55,169.06 L559.35,169.06 L560.16,169.05 L560.96,169.04 L561.76,169.03 L562.56,169.02 L563.36,169.00 L564.16,168.98 L564.96,168.95 L565.76,168.92 L566.57,168.89 L567.37,168.86 L568.17,168.82 L568.97,168.77 L569.77,168.72 L570.57,168.67 L571.37,168.61 L572.17,168.54 L572.97,168.47 L573.77,168.40 L574.58,168.32 L575.38,168.24 L576.18,168.16 L576.98,168.07 L577.78,167.98 L578.58,167.88 L579.38,167.78 L580.18,167.68 L580.98,167.58 L581.78,167.47 L582.59,167.37 L583.39,167.26 L584.19,167.15 L584.99,167.04 L585.79,166.92 L586.59,166.81 L587.39,166.69 L588.19,166.57 L588.99,166.46 L589.79,166.34 L590.59,166.22 L591.39,166.11 L592.20,165.99 L593.00,165.87 L593.80,165.75 L594.60,165.64 L595.40,165.52 L596.20,165.41 L597.00,165.29 L597.80,165.18 L598.60,165.07 L599.40,164.96 L600.20,164.85 L601.00,164.74 L601.81,164.63 L602.61,164.52 L603.41,164.42 L604.21,164.32 L605.01,164.22 L605.81,164.12 L606.61,164.02 L607.41,163.93 L608.21,163.83 L609.01,163.74 L609.81,163.66 L610.61,163.57 L611.41,163.49 L612.22,163.41 L613.02,163.34 L613.82,163.26 L614.62,163.19 L615.42,163.13 L616.22,163.06 L617.02,163.00 L617.82,162.95 L618.62,162.89 L619.42,162.85 L620.22,162.80 L621.02,162.76 L621.82,162.72 L622.63,162.69 L623.43,162.66 L624.23,162.64 L625.03,162.62 L625.83,162.61 L626.63,162.60 L627.43,162.59 L628.23,162.59 L629.03,162.59 L629.83,162.59 L630.63,162.59 L631.43,162.60 L632.24,162.61 L633.04,162.62 L633.84,162.63 L634.64,162.63 L635.44,162.64 L636.24,162.65 L637.04,162.66 L637.84,162.66 L638.64,162.66 L639.44,162.66 L640.25,162.66 L641.05,162.65 L641.85,162.64 L642.65,162.62 L643.45,162.60 L644.25,162.58 L645.05,162.55 L645.85,162.51 L646.65,162.47 L647.45,162.41" stroke="#1a8a1a" stroke-width="1.6" fill="none" stroke-linejoin="round"/>
<path d="M405.31,170.25 L406.08,170.62 L406.86,170.98 L407.63,171.32 L408.41,171.64 L409.19,171.94 L409.96,172.23 L410.74,172.50 L411.52,172.76 L412.30,173.00 L413.09,173.22 L413.87,173.43 L414.65,173.63 L415.44,173.82 L416.22,173.99 L417.01,174.14 L417.80,174.29 L418.58,174.42 L419.37,174.55 L420.16,174.66 L420.95,174.76 L421.74,174.85 L422.53,174.93 L423.32,175.00 L424.11,175.06 L424.91,175.11 L425.70,175.16 L426.49,175.20 L427.29,175.23 L428.08,175.25 L428.87,175.26 L429.67,175.27 L430.47,175.28 L431.26,175.28 L432.06,175.27 L432.86,175.26 L433.65,175.25 L434.45,175.23 L435.25,175.21 L436.05,175.18 L436.85,175.15 L437.64,175.12 L438.44,175.09 L439.24,175.06 L440.04,175.03 L440.84,174.99 L441.64,174.96 L442.44,174.93 L443.24,174.89 L444.04,174.85 L444.84,174.82 L445.64,174.78 L446.44,174.75 L447.24,174.71 L448.05,174.67 L448.85,174.63 L449.65,174.59 L450.45,174.56 L451.25,174.52 L452.05,174.48 L452.85,174.44 L453.66,174.40 L454.46,174.36 L455.26,174.32 L456.06,174.28 L456.87,174.23 L457.67,174.19 L458.47,174.15 L459.28,174.11 L460.08,174.07 L460.88,174.02 L461.69,173.98 L462.49,173.94 L463.29,173.89 L464.10,173.85 L464.90,173.81 L465.70,173.76 L466.51,173.72 L467.31,173.68 L468.12,173.63 L468.92,173.59 L469.73,173.54 L470.53,173.50 L471.33,173.46 L472.14,173.41 L472.94,173.37 L473.75,173.32 L474.55,173.28 L475.36,173.23 L476.16,173.19 L476.97,173.14 L477.77,173.10 L478.58,173.05 L479.39,173.01 L480.19,172.96 L481.00,172.92 L481.80,172.88 L482.61,172.83 L483.41,172.79 L484.22,172.74 L485.03,172.70 L485.83,172.65 L486.64,172.61 L487.44,172.57 L488.25,172.52 L489.06,172.48 L489.86,172.43 L490.67,172.39 L491.47,172.35 L492.28,172.31 L493.09,172.26 L493.89,172.22 L494.70,172.18 L495.51,172.14 L496.31,172.09 L497.12,172.05 L497.92,172.01 L498.73,171.97 L499.54,171.93 L500.34,171.89 L501.15,171.85 L501.96,171.81 L502.76,171.77 L503.57,171.73 L504.38,171.69 L505.18,171.65 L505.99,171.62 L506.80,171.58 L507.60,171.54 L508.41,171.51 L509.21,171.47 L510.02,171.43 L510.83,171.40 L511.63,171.36 L512.44,171.33 L513.25,171.29 L514.05,171.26 L514.86,171.23 L515.67,171.19 L516.47,171.16 L517.28,171.13 L518.08,171.10 L518.89,171.07 L519.70,171.04 L520.50,171.01 L521.31,170.98 L522.11,170.95 L522.92,170.93 L523.72,170.90 L524.53,170.87 L525.34,170.85 L526.14,170.82 L526.95,170.80 L527.75,170.77 L528.56,170.75 L529.36,170.73 L530.17,170.71 L530.97,170.69 L531.78,170.67 L532.58,170.65 L533.39,170.63 L534.19,170.61 L535.00,170.59 L535.80,170.57 L536.61,170.56 L537.41,170.54 L538.22,170.53 L539.02,170.51 L539.83,170.50 L540.63,170.48 L541.43,170.47 L542.24,170.45 L543.04,170.44 L543.85,170.43 L544.65,170.41 L545.45,170.40 L546.26,170.39 L547.06,170.38 L547.87,170.36 L548.67,170.35 L549.47,170.34 L550.28,170.33 L551.08,170.32 L551.88,170.31 L552.69,170.29 L553.49,170.28 L554.30,170.27 L555.10,170.26 L555.90,170.25 L556.71,170.24 L557.51,170.22 L558.31,170.21 L559.12,170.20 L559.92,170.19 L560.72,170.17 L561.52,170.16 L562.33,170.15 L563.13,170.13 L563.93,170.12 L564.74,170.10 L565.54,170.09 L566.34,170.07 L567.15,170.06 L567.95,170.04 L568.75,170.02 L569.55,170.01 L570.36,169.99 L571.16,169.97 L571.96,169.95 L572.77,169.93 L573.57,169.91 L574.37,169.89 L575.17,169.87 L575.98,169.85 L576.78,169.82 L577.58,169.80 L578.38,169.77 L579.19,169.75 L579.99,169.72 L580.79,169.69 L581.60,169.67 L582.40,169.64 L583.20,169.61 L584.00,169.58 L584.81,169.54 L585.61,169.51 L586.41,169.48 L587.21,169.44 L588.02,169.40 L588.82,169.37 L589.62,169.33 L590.43,169.29 L591.23,169.25 L592.03,169.20 L592.83,169.16 L593.64,169.11 L594.44,169.07 L595.24,169.02 L596.04,168.98 L596.85,168.93 L597.65,168.88 L598.45,168.83 L599.26,168.78 L600.06,168.73 L600.86,168.68 L601.67,168.62 L602.47,168.57 L603.27,168.52 L604.07,168.46 L604.88,168.41 L605.68,168.36 L606.48,168.30 L607.29,168.25 L608.09,168.19 L608.89,168.14 L609.70,168.08 L610.50,168.03 L611.30,167.98 L612.11,167.92 L612.91,167.87 L613.71,167.81 L614.52,167.76 L615.32,167.71 L616.12,167.65 L616.93,167.60 L617.73,167.55 L618.54,167.50 L619.34,167.45 L620.14,167.40 L620.95,167.35 L621.75,167.30 L622.56,167.25 L623.36,167.20 L624.16,167.15 L624.97,167.11 L625.77,167.06 L626.58,167.02 L627.38,166.98 L628.18,166.94 L628.99,166.90 L629.79,166.86 L630.60,166.82 L631.40,166.78 L632.21,166.75 L633.01,166.72 L633.82,166.68 L634.62,166.65 L635.43,166.62 L636.23,166.60 L637.04,166.57 L637.84,166.55 L638.65,166.53 L639.45,166.51 L640.26,166.49 L641.07,166.47 L641.87,166.46 L642.68,166.44 L643.48,166.43 L644.29,166.43 L645.09,166.42 L645.90,166.42 L646.71,166.41 L647.51,166.41" stroke="#1a8a1a" stroke-width="1.6" fill="none" stroke-linejoin="round"/>
<path d="M405.37,171.64 L406.16,171.94 L406.96,172.23 L407.75,172.50 L408.55,172.76 L409.34,173.00 L410.14,173.22 L410.94,173.43 L411.73,173.63 L412.53,173.82 L413.33,173.99 L414.12,174.15 L414.92,174.29 L415.72,174.43 L416.51,174.55 L417.31,174.67 L418.11,174.77 L418.90,174.87 L419.70,174.96 L420.50,175.03 L421.29,175.10 L422.09,175.17 L422.89,175.22 L423.69,175.27 L424.48,175.31 L425.28,175.35 L426.08,175.38 L426.88,175.41 L427.67,175.43 L428.47,175.45 L429.27,175.46 L430.07,175.47 L430.87,175.48 L431.67,175.48 L432.46,175.47 L433.26,175.47 L434.06,175.46 L434.86,175.44 L435.66,175.43 L436.46,175.41 L437.26,175.39 L438.05,175.36 L438.85,175.34 L439.65,175.31 L440.45,175.28 L441.25,175.24 L442.05,175.21 L442.85,175.17 L443.65,175.14 L444.45,175.10 L445.25,175.06 L446.05,175.02 L446.85,174.98 L447.65,174.94 L448.45,174.89 L449.25,174.85 L450.05,174.81 L450.85,174.77 L451.65,174.73 L452.45,174.69 L453.25,174.65 L454.05,174.61 L454.85,174.57 L455.65,174.53 L456.45,174.49 L457.25,174.45 L458.05,174.41 L458.85,174.37 L459.65,174.33 L460.45,174.29 L461.25,174.26 L462.05,174.22 L462.85,174.18 L463.65,174.14 L464.45,174.11 L465.25,174.07 L466.06,174.03 L466.86,173.99 L467.66,173.96 L468.46,173.92 L469.26,173.89 L470.06,173.85 L470.86,173.81 L471.66,173.78 L472.47,173.74 L473.27,173.71 L474.07,173.67 L474.87,173.64 L475.67,173.61 L476.47,173.57 L477.28,173.54 L478.08,173.50 L478.88,173.47 L479.68,173.44 L480.48,173.41 L481.29,173.37 L482.09,173.34 L482.89,173.31 L483.69,173.28 L484.49,173.24 L485.30,173.21 L486.10,173.18 L486.90,173.15 L487.70,173.12 L488.50,173.09 L489.31,173.06 L490.11,173.03 L490.91,173.00 L491.71,172.97 L492.52,172.94 L493.32,172.91 L494.12,172.88 L494.93,172.85 L495.73,172.82 L496.53,172.79 L497.33,172.76 L498.14,172.74 L498.94,172.71 L499.74,172.68 L500.54,172.65 L501.35,172.62 L502.15,172.60 L502.95,172.57 L503.76,172.54 L504.56,172.52 L505.36,172.49 L506.17,172.46 L506.97,172.44 L507.77,172.41 L508.58,172.39 L509.38,172.36 L510.18,172.34 L510.98,172.31 L511.79,172.29 L512.59,172.26 L513.39,172.24 L514.20,172.21 L515.00,172.19 L515.80,172.17 L516.61,172.14 L517.41,172.12 L518.22,172.09 L519.02,172.07 L519.82,172.05 L520.63,172.03 L521.43,172.00 L522.23,171.98 L523.04,171.96 L523.84,171.94 L524.64,171.92 L525.45,171.89 L526.25,171.87 L527.05,171.85 L527.86,171.83 L528.66,171.81 L529.47,171.79 L530.27,171.77 L531.07,171.75 L531.88,171.73 L532.68,171.71 L533.48,171.69 L534.29,171.67 L535.09,171.65 L535.90,171.63 L536.70,171.61 L537.50,171.59 L538.31,171.57 L539.11,171.56 L539.91,171.54 L540.72,171.52 L541.52,171.50 L542.33,171.48 L543.13,171.47 L543.93,171.45 L544.74,171.43 L545.54,171.41 L546.34,171.40 L547.15,171.38 L547.95,171.36 L548.76,171.35 L549.56,171.33 L550.36,171.31 L551.17,171.30 L551.97,171.28 L552.78,171.26 L553.58,171.25 L554.38,171.23 L555.19,171.21 L555.99,171.20 L556.79,171.18 L557.60,171.16 L558.40,171.15 L559.21,171.13 L560.01,171.11 L560.81,171.10 L561.62,171.08 L562.42,171.06 L563.22,171.04 L564.03,171.03 L564.83,171.01 L565.64,170.99 L566.44,170.97 L567.24,170.96 L568.05,170.94 L568.85,170.92 L569.65,170.90 L570.46,170.88 L571.26,170.86 L572.06,170.84 L572.87,170.83 L573.67,170.81 L574.48,170.79 L575.28,170.77 L576.08,170.75 L576.89,170.72 L577.69,170.70 L578.49,170.68 L579.30,170.66 L580.10,170.64 L580.90,170.62 L581.71,170.59 L582.51,170.57 L583.31,170.55 L584.12,170.52 L584.92,170.50 L585.72,170.48 L586.53,170.45 L587.33,170.43 L588.13,170.40 L588.94,170.37 L589.74,170.35 L590.54,170.32 L591.35,170.29 L592.15,170.26 L592.95,170.24 L593.75,170.21 L594.56,170.18 L595.36,170.15 L596.16,170.12 L596.97,170.09 L597.77,170.05 L598.57,170.02 L599.37,169.99 L600.18,169.96 L600.98,169.92 L601.78,169.89 L602.59,169.85 L603.39,169.82 L604.19,169.78 L604.99,169.75 L605.80,169.71 L606.60,169.67 L607.40,169.64 L608.20,169.60 L609.00,169.56 L609.81,169.52 L610.61,169.49 L611.41,169.45 L612.21,169.41 L613.02,169.37 L613.82,169.34 L614.62,169.30 L615.42,169.26 L616.22,169.22 L617.03,169.19 L617.83,169.15 L618.63,169.11 L619.43,169.08 L620.23,169.04 L621.04,169.01 L621.84,168.97 L622.64,168.94 L623.44,168.91 L624.24,168.88 L625.04,168.84 L625.84,168.81 L626.65,168.78 L627.45,168.75 L628.25,168.72 L629.05,168.70 L629.85,168.67 L630.65,168.64 L631.45,168.62 L632.25,168.60 L633.05,168.57 L633.86,168.55 L634.66,168.53 L635.46,168.51 L636.26,168.50 L637.06,168.48 L637.86,168.46 L638.66,168.45 L639.46,168.44 L640.26,168.43 L641.06,168.42 L641.86,168.41 L642.66,168.41 L643.46,168.40 L644.26,168.40 L645.06,168.40 L645.86,168.40 L646.66,168.40 L647.46,168.41" stroke="#1a8a1a" stroke-width="1.6" fill="none" stroke-linejoin="round"/>
<path d="M405.58,173.59 L406.39,173.74 L407.19,173.88 L407.99,174.02 L408.80,174.14 L409.60,174.27 L410.40,174.38 L411.21,174.49 L412.01,174.59 L412.82,174.69 L413.62,174.78 L414.43,174.87 L415.24,174.95 L416.04,175.02 L416.85,175.09 L417.66,175.15 L418.47,175.21 L419.27,175.27 L420.08,175.32 L420.89,175.36 L421.70,175.40 L422.51,175.44 L423.32,175.47 L424.12,175.50 L424.93,175.53 L425.74,175.55 L426.55,175.57 L427.36,175.58 L428.17,175.59 L428.98,175.60 L429.79,175.60 L430.61,175.60 L431.42,175.60 L432.23,175.60 L433.04,175.59 L433.85,175.58 L434.66,175.57 L435.47,175.56 L436.29,175.54 L437.10,175.52 L437.91,175.51 L438.72,175.48 L439.53,175.46 L440.35,175.44 L441.16,175.41 L441.97,175.39 L442.78,175.36 L443.60,175.33 L444.41,175.30 L445.22,175.27 L446.04,175.24 L446.85,175.21 L447.66,175.18 L448.47,175.14 L449.29,175.11 L450.10,175.08 L450.91,175.04 L451.73,175.01 L452.54,174.97 L453.35,174.93 L454.17,174.90 L454.98,174.86 L455.79,174.82 L456.61,174.78 L457.42,174.75 L458.23,174.71 L459.04,174.67 L459.86,174.63 L460.67,174.60 L461.48,174.56 L462.30,174.52 L463.11,174.49 L463.92,174.45 L464.73,174.41 L465.55,174.38 L466.36,174.34 L467.17,174.31 L467.98,174.28 L468.79,174.24 L469.61,174.21 L470.42,174.18 L471.23,174.15 L472.04,174.12 L472.85,174.09 L473.66,174.07 L474.47,174.04 L475.28,174.02 L476.09,173.99 L476.90,173.97 L477.71,173.95 L478.52,173.93 L479.33,173.91 L480.14,173.89 L480.95,173.88 L481.76,173.87 L482.57,173.85 L483.38,173.84 L484.19,173.84 L484.99,173.83" stroke="#1a8a1a" stroke-width="1.6" fill="none" stroke-linejoin="round"/>
<path d="M549.65,171.25 L550.41,170.97 L551.17,170.68 L551.93,170.38 L552.69,170.07 L553.44,169.76 L554.19,169.43 L554.93,169.08 L555.66,168.73 L556.39,168.36 L557.10,167.97 L557.79,167.56 L558.48,167.14 L559.14,166.70 L559.79,166.23 L560.42,165.74 L561.02,165.23 L561.61,164.70" stroke="#ffc000" stroke-width="2.2" fill="none" stroke-linejoin="round"/>
<path d="M291.0,45.3 H294.3 V63.5 H291.0" stroke="#333" stroke-width="1" fill="none"/>
<path d="M291.0,163.4 H294.3 V174 H291.0" stroke="#333" stroke-width="1" fill="none"/>
<path d="M650.9000000000001,40.3 H654.2 V51.2 H650.9000000000001" stroke="#333" stroke-width="1" fill="none"/>
<path d="M650.9000000000001,155.4 H654.2 V169.6 H650.9000000000001" stroke="#333" stroke-width="1" fill="none"/>
<text x="296.4" y="56.6" class="ann">Mutant</text>
<text x="296" y="172" class="ann">Wild-type</text>
<text x="657.2" y="48.5" class="ann">Mutant</text>
<text x="656.8" y="165.2" class="ann">Wild-type</text>
<rect x="100.5" y="235.5" width="482" height="19.8" fill="#fff" stroke="#a4a4a4" stroke-width="1"/>
<rect x="107.7" y="240.8" width="9.7" height="8.3" fill="#ff0000"/>
<text x="123.9" y="243.2" class="lg1">Primer set-0</text>
<text x="123.9" y="252.3" class="lg2">(zero mismatch)</text>
<rect x="201.9" y="240.8" width="9.7" height="8.3" fill="#ffc000"/>
<text x="217.6" y="243.2" class="lg1">Primer set-1</text>
<text x="217.6" y="252.3" class="lg2">(one mismatch)</text>
<rect x="299.8" y="240.8" width="9.7" height="8.3" fill="#7030a0"/>
<text x="315.4" y="243.2" class="lg1">Primer set-2</text>
<text x="315.4" y="252.3" class="lg2">(two mismatches)</text>
<rect x="397.5" y="240.8" width="9.7" height="8.3" fill="#2aa8ea"/>
<text x="413" y="243.2" class="lg1">Primer set-3</text>
<text x="413" y="252.3" class="lg2">(three mismatches)</text>
<rect x="519.9" y="240.8" width="9.7" height="8.3" fill="#1a8a1a"/>
<text x="535" y="247.3" class="lg1">NTC</text>
</svg>
</body></html>
